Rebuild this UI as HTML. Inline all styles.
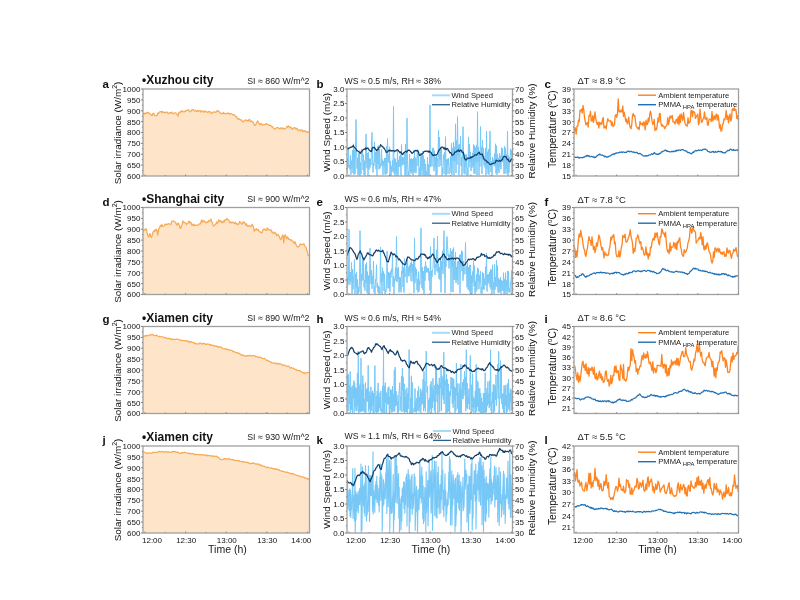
<!DOCTYPE html>
<html><head><meta charset="utf-8"><style>
html,body{margin:0;padding:0;background:#fff;width:800px;height:600px;overflow:hidden;position:relative}
text{font-family:"Liberation Sans", sans-serif}
</style></head><body>
<svg width="800" height="600" viewBox="0 0 800 600" style="position:absolute;left:0;top:0;filter:blur(0.35px)" font-family='"Liberation Sans", sans-serif'>
<rect width="800" height="600" fill="#fff"/>
<defs><clipPath id="cp00"><rect x="143.0" y="89.0" width="166.5" height="87.0"/></clipPath><clipPath id="cp01"><rect x="143.0" y="207.5" width="166.5" height="87.0"/></clipPath><clipPath id="cp02"><rect x="143.0" y="326.5" width="166.5" height="87.0"/></clipPath><clipPath id="cp03"><rect x="143.0" y="446.0" width="166.5" height="87.0"/></clipPath><clipPath id="cp10"><rect x="347.0" y="89.0" width="165.5" height="87.0"/></clipPath><clipPath id="cp11"><rect x="347.0" y="207.5" width="165.5" height="87.0"/></clipPath><clipPath id="cp12"><rect x="347.0" y="326.5" width="165.5" height="87.0"/></clipPath><clipPath id="cp13"><rect x="347.0" y="446.0" width="165.5" height="87.0"/></clipPath><clipPath id="cp20"><rect x="574.0" y="89.0" width="164.5" height="87.0"/></clipPath><clipPath id="cp21"><rect x="574.0" y="207.5" width="164.5" height="87.0"/></clipPath><clipPath id="cp22"><rect x="574.0" y="326.5" width="164.5" height="87.0"/></clipPath><clipPath id="cp23"><rect x="574.0" y="446.0" width="164.5" height="87.0"/></clipPath></defs>
<g clip-path="url(#cp00)"><path d="M143.0,113.9 L143.7,113.3 L144.4,114.1 L145.1,112.9 L145.8,113.5 L146.5,113.1 L147.2,112.2 L147.9,112.8 L148.6,112.6 L149.3,113.9 L150.0,113.8 L150.7,114.3 L151.4,115.3 L152.1,115.7 L152.8,113.8 L153.5,113.2 L154.2,114.4 L154.9,115.7 L155.6,115.5 L156.3,115.5 L157.0,115.6 L157.7,112.9 L158.4,113.7 L159.1,112.6 L159.8,111.9 L160.5,111.5 L161.2,111.7 L161.9,112.6 L162.6,111.4 L163.3,112.2 L164.0,112.7 L164.7,112.4 L165.4,112.8 L166.1,112.1 L166.8,112.1 L167.5,112.6 L168.2,113.8 L168.9,113.2 L169.6,112.7 L170.3,112.9 L171.0,112.5 L171.7,112.1 L172.4,113.4 L173.1,113.8 L173.8,113.1 L174.5,113.1 L175.2,112.7 L175.9,113.0 L176.6,114.0 L177.3,114.6 L178.0,116.1 L178.7,113.2 L179.4,112.1 L180.1,112.7 L180.8,111.4 L181.5,111.7 L182.2,110.7 L182.9,111.7 L183.6,111.9 L184.3,111.4 L185.0,111.8 L185.7,110.5 L186.4,110.8 L187.1,110.4 L187.8,110.1 L188.5,109.6 L189.2,110.9 L189.9,111.8 L190.6,111.5 L191.3,111.1 L192.0,109.4 L192.7,109.9 L193.4,109.5 L194.1,110.7 L194.8,111.1 L195.5,110.5 L196.2,111.0 L196.9,111.7 L197.6,110.5 L198.3,111.3 L199.0,110.9 L199.7,110.7 L200.4,110.6 L201.1,112.2 L201.8,111.2 L202.5,111.2 L203.2,111.4 L203.9,112.4 L204.6,110.9 L205.3,111.3 L206.0,111.5 L206.7,112.2 L207.4,112.1 L208.1,112.4 L208.8,111.4 L209.5,111.7 L210.2,111.8 L210.9,113.1 L211.6,113.6 L212.3,112.3 L213.0,112.2 L213.7,112.1 L214.4,111.9 L215.1,112.2 L215.8,112.3 L216.5,111.5 L217.2,110.6 L217.9,111.1 L218.6,111.0 L219.3,111.8 L220.0,113.1 L220.7,113.2 L221.4,113.3 L222.1,113.9 L222.8,113.8 L223.5,112.3 L224.2,113.6 L224.9,113.5 L225.6,113.6 L226.3,113.7 L227.0,113.2 L227.7,113.3 L228.4,113.0 L229.1,114.2 L229.8,113.5 L230.5,113.6 L231.2,114.0 L231.9,114.2 L232.6,114.8 L233.3,114.5 L234.0,114.6 L234.7,115.4 L235.4,115.8 L236.1,116.9 L236.8,116.8 L237.5,119.0 L238.2,119.3 L238.9,118.7 L239.6,119.1 L240.3,119.7 L241.0,120.1 L241.7,119.9 L242.4,121.5 L243.1,122.0 L243.8,121.1 L244.5,120.9 L245.2,120.0 L245.9,119.9 L246.6,120.4 L247.3,120.3 L248.0,121.3 L248.7,120.0 L249.4,119.3 L250.1,121.3 L250.8,121.4 L251.5,121.0 L252.2,122.2 L252.9,121.8 L253.6,123.2 L254.3,124.9 L255.0,125.4 L255.7,124.9 L256.4,122.9 L257.1,121.8 L257.8,120.9 L258.5,122.9 L259.2,123.5 L259.9,124.8 L260.6,123.9 L261.3,123.5 L262.0,124.6 L262.7,125.1 L263.4,124.9 L264.1,124.7 L264.8,124.7 L265.5,124.4 L266.2,123.3 L266.9,124.0 L267.6,124.6 L268.3,124.7 L269.0,125.3 L269.7,125.4 L270.4,125.1 L271.1,125.7 L271.8,126.9 L272.5,126.5 L273.2,127.9 L273.9,128.7 L274.6,129.2 L275.3,128.5 L276.0,128.1 L276.7,127.8 L277.4,127.6 L278.1,127.5 L278.8,128.2 L279.5,128.8 L280.2,128.7 L280.9,127.8 L281.6,128.1 L282.3,128.8 L283.0,127.8 L283.7,128.8 L284.4,129.2 L285.1,128.7 L285.8,128.3 L286.5,127.3 L287.2,126.2 L287.9,127.0 L288.6,125.9 L289.3,126.6 L290.0,127.8 L290.7,127.2 L291.4,127.6 L292.1,129.3 L292.8,129.3 L293.5,128.0 L294.2,127.6 L294.9,127.5 L295.6,128.9 L296.3,129.2 L297.0,128.2 L297.7,129.7 L298.4,130.6 L299.1,130.3 L299.8,129.9 L300.5,130.6 L301.2,130.1 L301.9,129.8 L302.6,131.6 L303.3,131.1 L304.0,130.7 L304.7,131.4 L305.4,130.8 L306.1,131.9 L306.8,132.4 L307.5,131.6 L308.2,131.8 L309.5,132.3 L309.5,176.0 L143.0,176.0 Z" fill="#fee4c8" stroke="none"/>
<polyline points="143.0,113.9 143.7,113.3 144.4,114.1 145.1,112.9 145.8,113.5 146.5,113.1 147.2,112.2 147.9,112.8 148.6,112.6 149.3,113.9 150.0,113.8 150.7,114.3 151.4,115.3 152.1,115.7 152.8,113.8 153.5,113.2 154.2,114.4 154.9,115.7 155.6,115.5 156.3,115.5 157.0,115.6 157.7,112.9 158.4,113.7 159.1,112.6 159.8,111.9 160.5,111.5 161.2,111.7 161.9,112.6 162.6,111.4 163.3,112.2 164.0,112.7 164.7,112.4 165.4,112.8 166.1,112.1 166.8,112.1 167.5,112.6 168.2,113.8 168.9,113.2 169.6,112.7 170.3,112.9 171.0,112.5 171.7,112.1 172.4,113.4 173.1,113.8 173.8,113.1 174.5,113.1 175.2,112.7 175.9,113.0 176.6,114.0 177.3,114.6 178.0,116.1 178.7,113.2 179.4,112.1 180.1,112.7 180.8,111.4 181.5,111.7 182.2,110.7 182.9,111.7 183.6,111.9 184.3,111.4 185.0,111.8 185.7,110.5 186.4,110.8 187.1,110.4 187.8,110.1 188.5,109.6 189.2,110.9 189.9,111.8 190.6,111.5 191.3,111.1 192.0,109.4 192.7,109.9 193.4,109.5 194.1,110.7 194.8,111.1 195.5,110.5 196.2,111.0 196.9,111.7 197.6,110.5 198.3,111.3 199.0,110.9 199.7,110.7 200.4,110.6 201.1,112.2 201.8,111.2 202.5,111.2 203.2,111.4 203.9,112.4 204.6,110.9 205.3,111.3 206.0,111.5 206.7,112.2 207.4,112.1 208.1,112.4 208.8,111.4 209.5,111.7 210.2,111.8 210.9,113.1 211.6,113.6 212.3,112.3 213.0,112.2 213.7,112.1 214.4,111.9 215.1,112.2 215.8,112.3 216.5,111.5 217.2,110.6 217.9,111.1 218.6,111.0 219.3,111.8 220.0,113.1 220.7,113.2 221.4,113.3 222.1,113.9 222.8,113.8 223.5,112.3 224.2,113.6 224.9,113.5 225.6,113.6 226.3,113.7 227.0,113.2 227.7,113.3 228.4,113.0 229.1,114.2 229.8,113.5 230.5,113.6 231.2,114.0 231.9,114.2 232.6,114.8 233.3,114.5 234.0,114.6 234.7,115.4 235.4,115.8 236.1,116.9 236.8,116.8 237.5,119.0 238.2,119.3 238.9,118.7 239.6,119.1 240.3,119.7 241.0,120.1 241.7,119.9 242.4,121.5 243.1,122.0 243.8,121.1 244.5,120.9 245.2,120.0 245.9,119.9 246.6,120.4 247.3,120.3 248.0,121.3 248.7,120.0 249.4,119.3 250.1,121.3 250.8,121.4 251.5,121.0 252.2,122.2 252.9,121.8 253.6,123.2 254.3,124.9 255.0,125.4 255.7,124.9 256.4,122.9 257.1,121.8 257.8,120.9 258.5,122.9 259.2,123.5 259.9,124.8 260.6,123.9 261.3,123.5 262.0,124.6 262.7,125.1 263.4,124.9 264.1,124.7 264.8,124.7 265.5,124.4 266.2,123.3 266.9,124.0 267.6,124.6 268.3,124.7 269.0,125.3 269.7,125.4 270.4,125.1 271.1,125.7 271.8,126.9 272.5,126.5 273.2,127.9 273.9,128.7 274.6,129.2 275.3,128.5 276.0,128.1 276.7,127.8 277.4,127.6 278.1,127.5 278.8,128.2 279.5,128.8 280.2,128.7 280.9,127.8 281.6,128.1 282.3,128.8 283.0,127.8 283.7,128.8 284.4,129.2 285.1,128.7 285.8,128.3 286.5,127.3 287.2,126.2 287.9,127.0 288.6,125.9 289.3,126.6 290.0,127.8 290.7,127.2 291.4,127.6 292.1,129.3 292.8,129.3 293.5,128.0 294.2,127.6 294.9,127.5 295.6,128.9 296.3,129.2 297.0,128.2 297.7,129.7 298.4,130.6 299.1,130.3 299.8,129.9 300.5,130.6 301.2,130.1 301.9,129.8 302.6,131.6 303.3,131.1 304.0,130.7 304.7,131.4 305.4,130.8 306.1,131.9 306.8,132.4 307.5,131.6 308.2,131.8 309.5,132.3" fill="none" stroke="#f7ab55" stroke-width="1.25" stroke-linejoin="round" />
</g>
<rect x="143.0" y="89.0" width="166.5" height="87.0" fill="none" stroke="#a0a0a0" stroke-width="1.3"/>
<line x1="141.0" y1="89.0" x2="143.0" y2="89.0" stroke="#858585" stroke-width="1"/>
<text x="140.4" y="91.8" font-size="8.0" text-anchor="end" font-weight="normal" fill="#111" >1000</text>
<line x1="141.0" y1="99.9" x2="143.0" y2="99.9" stroke="#858585" stroke-width="1"/>
<text x="140.4" y="102.7" font-size="8.0" text-anchor="end" font-weight="normal" fill="#111" >950</text>
<line x1="141.0" y1="110.8" x2="143.0" y2="110.8" stroke="#858585" stroke-width="1"/>
<text x="140.4" y="113.6" font-size="8.0" text-anchor="end" font-weight="normal" fill="#111" >900</text>
<line x1="141.0" y1="121.6" x2="143.0" y2="121.6" stroke="#858585" stroke-width="1"/>
<text x="140.4" y="124.5" font-size="8.0" text-anchor="end" font-weight="normal" fill="#111" >850</text>
<line x1="141.0" y1="132.5" x2="143.0" y2="132.5" stroke="#858585" stroke-width="1"/>
<text x="140.4" y="135.3" font-size="8.0" text-anchor="end" font-weight="normal" fill="#111" >800</text>
<line x1="141.0" y1="143.4" x2="143.0" y2="143.4" stroke="#858585" stroke-width="1"/>
<text x="140.4" y="146.2" font-size="8.0" text-anchor="end" font-weight="normal" fill="#111" >750</text>
<line x1="141.0" y1="154.2" x2="143.0" y2="154.2" stroke="#858585" stroke-width="1"/>
<text x="140.4" y="157.1" font-size="8.0" text-anchor="end" font-weight="normal" fill="#111" >700</text>
<line x1="141.0" y1="165.1" x2="143.0" y2="165.1" stroke="#858585" stroke-width="1"/>
<text x="140.4" y="168.0" font-size="8.0" text-anchor="end" font-weight="normal" fill="#111" >650</text>
<line x1="141.0" y1="176.0" x2="143.0" y2="176.0" stroke="#858585" stroke-width="1"/>
<text x="140.4" y="178.8" font-size="8.0" text-anchor="end" font-weight="normal" fill="#111" >600</text>
<line x1="141.8" y1="94.4" x2="143.0" y2="94.4" stroke="#858585" stroke-width="0.8"/>
<line x1="141.8" y1="105.3" x2="143.0" y2="105.3" stroke="#858585" stroke-width="0.8"/>
<line x1="141.8" y1="116.2" x2="143.0" y2="116.2" stroke="#858585" stroke-width="0.8"/>
<line x1="141.8" y1="127.1" x2="143.0" y2="127.1" stroke="#858585" stroke-width="0.8"/>
<line x1="141.8" y1="137.9" x2="143.0" y2="137.9" stroke="#858585" stroke-width="0.8"/>
<line x1="141.8" y1="148.8" x2="143.0" y2="148.8" stroke="#858585" stroke-width="0.8"/>
<line x1="141.8" y1="159.7" x2="143.0" y2="159.7" stroke="#858585" stroke-width="0.8"/>
<line x1="141.8" y1="170.6" x2="143.0" y2="170.6" stroke="#858585" stroke-width="0.8"/>
<line x1="145.0" y1="174.5" x2="145.0" y2="176.0" stroke="#858585" stroke-width="0.9"/>
<line x1="165.3" y1="175.0" x2="165.3" y2="176.0" stroke="#858585" stroke-width="0.8"/>
<line x1="185.6" y1="174.5" x2="185.6" y2="176.0" stroke="#858585" stroke-width="0.9"/>
<line x1="205.9" y1="175.0" x2="205.9" y2="176.0" stroke="#858585" stroke-width="0.8"/>
<line x1="226.2" y1="174.5" x2="226.2" y2="176.0" stroke="#858585" stroke-width="0.9"/>
<line x1="246.5" y1="175.0" x2="246.5" y2="176.0" stroke="#858585" stroke-width="0.8"/>
<line x1="266.8" y1="174.5" x2="266.8" y2="176.0" stroke="#858585" stroke-width="0.9"/>
<line x1="287.1" y1="175.0" x2="287.1" y2="176.0" stroke="#858585" stroke-width="0.8"/>
<line x1="307.4" y1="174.5" x2="307.4" y2="176.0" stroke="#858585" stroke-width="0.9"/>
<text x="102.5" y="87.6" font-size="11.5" text-anchor="start" font-weight="bold" fill="#111" >a</text>
<text x="142.0" y="83.5" font-size="12" text-anchor="start" font-weight="bold" fill="#111" >•Xuzhou city</text>
<text x="309.5" y="83.5" font-size="8.8" text-anchor="end" font-weight="normal" fill="#222" >SI ≈ 860 W/m^2</text>
<text transform="translate(120.5,133.0) rotate(-90)" font-size="9.9" text-anchor="middle" fill="#111">Solar irradiance (W/m<tspan font-size="7.0" dy="-4.0">2</tspan><tspan dy="4.0">)</tspan></text>
<g clip-path="url(#cp10)">
<polyline points="347.0,173.4 347.5,157.8 348.0,167.0 348.5,149.6 349.0,167.9 349.5,165.0 350.0,169.6 350.5,155.3 351.0,174.7 351.5,160.8 352.0,168.6 352.5,150.2 353.0,173.0 353.5,143.8 354.0,174.7 354.5,149.7 355.0,173.9 355.5,149.2 356.0,119.5 356.5,147.5 357.0,168.7 357.5,157.9 358.0,175.0 358.5,153.3 359.0,175.2 359.5,150.7 360.0,176.0 360.5,162.7 361.0,174.0 361.5,149.0 362.0,155.6 362.5,150.0 363.0,169.9 363.5,154.7 364.0,175.1 364.5,160.7 365.0,175.3 365.5,160.2 366.0,133.9 366.5,158.2 367.0,168.2 367.5,153.1 368.0,175.6 368.5,152.2 369.0,169.8 369.5,158.5 370.0,167.5 370.5,159.4 371.0,165.1 371.5,142.0 372.0,132.5 372.5,156.0 373.0,172.6 373.5,162.8 374.0,166.0 374.5,141.9 375.0,162.4 375.5,152.1 376.0,169.1 376.5,151.3 377.0,175.9 377.5,146.5 378.0,164.2 378.5,145.6 379.0,169.3 379.5,149.1 380.0,168.5 380.5,163.3 381.0,164.3 381.5,149.4 382.0,166.2 382.5,159.6 383.0,175.0 383.5,161.2 384.0,164.7 384.5,157.9 385.0,174.5 385.5,158.0 386.0,174.5 386.5,146.3 387.0,173.4 387.5,138.5 388.0,161.5 388.5,154.5 389.0,163.0 389.5,146.8 390.0,176.0 390.5,161.0 391.0,176.0 391.5,166.2 392.0,171.8 392.5,160.4 393.0,171.2 393.5,106.4 394.0,173.3 394.5,158.6 395.0,176.0 395.5,158.8 396.0,173.4 396.5,162.4 397.0,175.7 397.5,149.0 398.0,176.0 398.5,160.4 399.0,166.9 399.5,156.0 400.0,167.0 400.5,154.7 401.0,175.9 401.5,144.4 402.0,165.5 402.5,157.3 403.0,165.0 403.5,157.5 404.0,164.0 404.5,153.5 405.0,175.3 405.5,144.2 406.0,176.0 406.5,165.3 407.0,118.0 407.5,160.4 408.0,176.0 408.5,171.5 409.0,175.0 409.5,154.0 410.0,171.6 410.5,159.3 411.0,173.8 411.5,158.1 412.0,171.7 412.5,159.0 413.0,175.8 413.5,157.8 414.0,173.1 414.5,150.2 415.0,171.5 415.5,157.7 416.0,173.2 416.5,161.9 417.0,156.3 417.5,149.0 418.0,165.9 418.5,150.2 419.0,176.0 419.5,167.7 420.0,176.0 420.5,156.8 421.0,176.0 421.5,154.0 422.0,170.3 422.5,151.4 423.0,176.0 423.5,155.5 424.0,175.4 424.5,159.3 425.0,176.0 425.5,163.9 426.0,176.0 426.5,171.6 427.0,176.0 427.5,157.3 428.0,175.1 428.5,164.2 429.0,176.0 429.5,163.5 430.0,104.9 430.5,167.1 431.0,160.5 431.5,154.2 432.0,166.5 432.5,147.9 433.0,155.6 433.5,147.9 434.0,171.1 434.5,150.8 435.0,166.9 435.5,157.2 436.0,175.5 436.5,154.7 437.0,174.9 437.5,158.4 438.0,157.2 438.5,130.2 439.0,166.9 439.5,137.1 440.0,159.6 440.5,150.2 441.0,165.8 441.5,147.8 442.0,176.0 442.5,167.6 443.0,173.7 443.5,154.6 444.0,160.3 444.5,152.2 445.0,174.4 445.5,136.6 446.0,175.8 446.5,159.7 447.0,174.2 447.5,158.9 448.0,164.7 448.5,158.4 449.0,174.2 449.5,169.1 450.0,166.6 450.5,156.4 451.0,173.2 451.5,143.0 452.0,175.0 452.5,148.3 453.0,160.4 453.5,142.0 454.0,175.5 454.5,146.9 455.0,161.3 455.5,123.8 456.0,173.1 456.5,140.5 457.0,164.5 457.5,116.6 458.0,155.3 458.5,144.9 459.0,175.6 459.5,144.0 460.0,150.9 460.5,136.2 461.0,166.1 461.5,157.1 462.0,175.7 462.5,151.4 463.0,126.7 463.5,151.8 464.0,173.4 464.5,154.1 465.0,174.4 465.5,154.8 466.0,167.3 466.5,154.6 467.0,176.0 467.5,167.9 468.0,175.7 468.5,136.9 469.0,167.4 469.5,144.1 470.0,161.9 470.5,151.9 471.0,171.0 471.5,156.9 472.0,167.8 472.5,152.9 473.0,166.1 473.5,144.6 474.0,173.4 474.5,145.5 475.0,174.0 475.5,147.4 476.0,162.3 476.5,144.9 477.0,175.4 477.5,111.7 478.0,161.9 478.5,146.9 479.0,175.3 479.5,151.2 480.0,166.6 480.5,126.6 481.0,158.6 481.5,147.0 482.0,173.8 482.5,140.2 483.0,160.0 483.5,148.0 484.0,165.3 484.5,156.7 485.0,167.5 485.5,148.3 486.0,175.4 486.5,131.1 487.0,168.6 487.5,151.8 488.0,173.6 488.5,149.1 489.0,174.7 489.5,149.2 490.0,131.1 490.5,161.5 491.0,172.1 491.5,161.1 492.0,175.8 492.5,157.1 493.0,163.0 493.5,159.8 494.0,165.7 494.5,153.6 495.0,166.6 495.5,143.8 496.0,173.6 496.5,145.7 497.0,174.8 497.5,154.5 498.0,170.6 498.5,158.2 499.0,173.0 499.5,153.0 500.0,167.4 500.5,155.8 501.0,169.2 501.5,147.7 502.0,161.6 502.5,148.3 503.0,162.2 503.5,159.1 504.0,173.8 504.5,146.2 505.0,173.7 505.5,147.9 506.0,168.9 506.5,154.3 507.0,173.6 507.5,131.1 508.0,176.0 508.5,155.8 509.0,172.6 509.5,157.4 510.0,160.0 510.5,148.8 511.0,155.1 511.5,150.2 512.0,173.1 512.5,163.2" fill="none" stroke="#78c8f7" stroke-width="1.0" stroke-linejoin="round" />
<polyline points="347.0,149.6 347.7,148.0 348.4,148.8 349.1,148.0 349.8,147.8 350.5,147.2 351.2,147.3 351.9,146.8 352.6,146.6 353.3,145.4 354.0,146.9 354.7,147.5 355.4,148.7 356.1,149.0 356.8,150.6 357.5,150.9 358.2,151.2 358.9,151.9 359.6,152.6 360.3,153.4 361.0,151.8 361.7,151.6 362.4,150.2 363.1,149.9 363.8,149.2 364.5,148.9 365.2,149.5 365.9,147.7 366.6,148.9 367.3,148.2 368.0,148.1 368.7,149.3 369.4,150.6 370.1,150.7 370.8,151.5 371.5,151.7 372.2,148.3 372.9,147.4 373.6,147.8 374.3,147.1 375.0,148.5 375.7,149.4 376.4,150.5 377.1,149.7 377.8,150.0 378.5,148.3 379.2,147.3 379.9,147.2 380.6,144.7 381.3,145.6 382.0,146.3 382.7,146.4 383.4,148.1 384.1,148.0 384.8,149.3 385.5,150.5 386.2,152.2 386.9,152.3 387.6,151.9 388.3,150.8 389.0,150.1 389.7,150.9 390.4,150.1 391.1,151.1 391.8,150.6 392.5,150.9 393.2,150.5 393.9,150.7 394.6,151.6 395.3,150.9 396.0,151.0 396.7,149.9 397.4,149.8 398.1,150.2 398.8,151.3 399.5,152.0 400.2,152.8 400.9,151.8 401.6,153.4 402.3,154.4 403.0,154.3 403.7,152.7 404.4,152.5 405.1,151.5 405.8,151.3 406.5,152.2 407.2,151.2 407.9,150.5 408.6,150.1 409.3,150.4 410.0,150.8 410.7,151.6 411.4,152.5 412.1,153.4 412.8,152.7 413.5,152.3 414.2,150.8 414.9,151.1 415.6,150.3 416.3,150.9 417.0,150.5 417.7,151.3 418.4,151.9 419.1,154.2 419.8,155.7 420.5,155.1 421.2,153.9 421.9,154.2 422.6,153.8 423.3,152.8 424.0,151.6 424.7,151.3 425.4,151.4 426.1,151.0 426.8,151.1 427.5,151.4 428.2,152.1 428.9,150.9 429.6,152.2 430.3,151.8 431.0,152.2 431.7,154.1 432.4,154.4 433.1,155.6 433.8,155.2 434.5,154.7 435.2,155.3 435.9,154.9 436.6,154.8 437.3,154.1 438.0,152.2 438.7,150.9 439.4,149.3 440.1,149.3 440.8,147.7 441.5,147.2 442.2,147.0 442.9,147.1 443.6,148.6 444.3,147.8 445.0,149.5 445.7,148.1 446.4,149.5 447.1,148.5 447.8,148.8 448.5,151.0 449.2,151.1 449.9,152.9 450.6,152.7 451.3,153.1 452.0,155.4 452.7,154.9 453.4,154.7 454.1,153.9 454.8,151.9 455.5,152.2 456.2,152.0 456.9,150.9 457.6,151.2 458.3,149.8 459.0,151.3 459.7,151.3 460.4,150.1 461.1,150.1 461.8,151.6 462.5,152.5 463.2,152.1 463.9,155.1 464.6,158.8 465.3,159.3 466.0,160.2 466.7,159.4 467.4,158.1 468.1,158.2 468.8,158.4 469.5,158.0 470.2,158.1 470.9,156.8 471.6,157.7 472.3,156.6 473.0,156.6 473.7,156.2 474.4,155.3 475.1,154.7 475.8,155.0 476.5,155.0 477.2,154.3 477.9,153.4 478.6,152.8 479.3,152.3 480.0,154.3 480.7,154.3 481.4,154.6 482.1,154.0 482.8,155.8 483.5,158.0 484.2,159.3 484.9,160.2 485.6,160.1 486.3,160.7 487.0,162.2 487.7,161.8 488.4,162.8 489.1,163.2 489.8,164.3 490.5,164.7 491.2,164.1 491.9,163.8 492.6,163.7 493.3,163.4 494.0,163.1 494.7,163.0 495.4,162.5 496.1,160.1 496.8,160.7 497.5,160.9 498.2,161.3 498.9,161.0 499.6,160.5 500.3,161.3 501.0,160.8 501.7,159.8 502.4,159.6 503.1,157.8 503.8,156.3 504.5,156.4 505.2,156.8 505.9,156.6 506.6,158.3 507.3,159.7 508.0,159.2 508.7,160.6 509.4,161.7 510.1,161.8 510.8,160.1 511.5,159.0 512.2,158.9" fill="none" stroke="#153f68" stroke-width="1.25" stroke-linejoin="round" />
</g>
<rect x="347.0" y="89.0" width="165.5" height="87.0" fill="none" stroke="#a0a0a0" stroke-width="1.3"/>
<line x1="345.0" y1="89.0" x2="347.0" y2="89.0" stroke="#858585" stroke-width="1"/>
<text x="344.4" y="91.8" font-size="8.0" text-anchor="end" font-weight="normal" fill="#111" >3.0</text>
<line x1="345.0" y1="103.5" x2="347.0" y2="103.5" stroke="#858585" stroke-width="1"/>
<text x="344.4" y="106.3" font-size="8.0" text-anchor="end" font-weight="normal" fill="#111" >2.5</text>
<line x1="345.0" y1="118.0" x2="347.0" y2="118.0" stroke="#858585" stroke-width="1"/>
<text x="344.4" y="120.8" font-size="8.0" text-anchor="end" font-weight="normal" fill="#111" >2.0</text>
<line x1="345.0" y1="132.5" x2="347.0" y2="132.5" stroke="#858585" stroke-width="1"/>
<text x="344.4" y="135.3" font-size="8.0" text-anchor="end" font-weight="normal" fill="#111" >1.5</text>
<line x1="345.0" y1="147.0" x2="347.0" y2="147.0" stroke="#858585" stroke-width="1"/>
<text x="344.4" y="149.8" font-size="8.0" text-anchor="end" font-weight="normal" fill="#111" >1.0</text>
<line x1="345.0" y1="161.5" x2="347.0" y2="161.5" stroke="#858585" stroke-width="1"/>
<text x="344.4" y="164.3" font-size="8.0" text-anchor="end" font-weight="normal" fill="#111" >0.5</text>
<line x1="345.0" y1="176.0" x2="347.0" y2="176.0" stroke="#858585" stroke-width="1"/>
<text x="344.4" y="178.8" font-size="8.0" text-anchor="end" font-weight="normal" fill="#111" >0.0</text>
<line x1="345.8" y1="96.2" x2="347.0" y2="96.2" stroke="#858585" stroke-width="0.8"/>
<line x1="345.8" y1="110.8" x2="347.0" y2="110.8" stroke="#858585" stroke-width="0.8"/>
<line x1="345.8" y1="125.2" x2="347.0" y2="125.2" stroke="#858585" stroke-width="0.8"/>
<line x1="345.8" y1="139.8" x2="347.0" y2="139.8" stroke="#858585" stroke-width="0.8"/>
<line x1="345.8" y1="154.2" x2="347.0" y2="154.2" stroke="#858585" stroke-width="0.8"/>
<line x1="345.8" y1="168.8" x2="347.0" y2="168.8" stroke="#858585" stroke-width="0.8"/>
<line x1="512.5" y1="89.0" x2="514.5" y2="89.0" stroke="#858585" stroke-width="1"/>
<text x="515.0" y="91.8" font-size="8.0" text-anchor="start" font-weight="normal" fill="#111" >70</text>
<line x1="512.5" y1="99.9" x2="514.5" y2="99.9" stroke="#858585" stroke-width="1"/>
<text x="515.0" y="102.7" font-size="8.0" text-anchor="start" font-weight="normal" fill="#111" >65</text>
<line x1="512.5" y1="110.8" x2="514.5" y2="110.8" stroke="#858585" stroke-width="1"/>
<text x="515.0" y="113.6" font-size="8.0" text-anchor="start" font-weight="normal" fill="#111" >60</text>
<line x1="512.5" y1="121.6" x2="514.5" y2="121.6" stroke="#858585" stroke-width="1"/>
<text x="515.0" y="124.5" font-size="8.0" text-anchor="start" font-weight="normal" fill="#111" >55</text>
<line x1="512.5" y1="132.5" x2="514.5" y2="132.5" stroke="#858585" stroke-width="1"/>
<text x="515.0" y="135.3" font-size="8.0" text-anchor="start" font-weight="normal" fill="#111" >50</text>
<line x1="512.5" y1="143.4" x2="514.5" y2="143.4" stroke="#858585" stroke-width="1"/>
<text x="515.0" y="146.2" font-size="8.0" text-anchor="start" font-weight="normal" fill="#111" >45</text>
<line x1="512.5" y1="154.2" x2="514.5" y2="154.2" stroke="#858585" stroke-width="1"/>
<text x="515.0" y="157.1" font-size="8.0" text-anchor="start" font-weight="normal" fill="#111" >40</text>
<line x1="512.5" y1="165.1" x2="514.5" y2="165.1" stroke="#858585" stroke-width="1"/>
<text x="515.0" y="168.0" font-size="8.0" text-anchor="start" font-weight="normal" fill="#111" >35</text>
<line x1="512.5" y1="176.0" x2="514.5" y2="176.0" stroke="#858585" stroke-width="1"/>
<text x="515.0" y="178.8" font-size="8.0" text-anchor="start" font-weight="normal" fill="#111" >30</text>
<line x1="512.5" y1="94.4" x2="513.7" y2="94.4" stroke="#858585" stroke-width="0.8"/>
<line x1="512.5" y1="105.3" x2="513.7" y2="105.3" stroke="#858585" stroke-width="0.8"/>
<line x1="512.5" y1="116.2" x2="513.7" y2="116.2" stroke="#858585" stroke-width="0.8"/>
<line x1="512.5" y1="127.1" x2="513.7" y2="127.1" stroke="#858585" stroke-width="0.8"/>
<line x1="512.5" y1="137.9" x2="513.7" y2="137.9" stroke="#858585" stroke-width="0.8"/>
<line x1="512.5" y1="148.8" x2="513.7" y2="148.8" stroke="#858585" stroke-width="0.8"/>
<line x1="512.5" y1="159.7" x2="513.7" y2="159.7" stroke="#858585" stroke-width="0.8"/>
<line x1="512.5" y1="170.6" x2="513.7" y2="170.6" stroke="#858585" stroke-width="0.8"/>
<line x1="349.0" y1="174.5" x2="349.0" y2="176.0" stroke="#858585" stroke-width="0.9"/>
<line x1="369.3" y1="175.0" x2="369.3" y2="176.0" stroke="#858585" stroke-width="0.8"/>
<line x1="389.6" y1="174.5" x2="389.6" y2="176.0" stroke="#858585" stroke-width="0.9"/>
<line x1="409.9" y1="175.0" x2="409.9" y2="176.0" stroke="#858585" stroke-width="0.8"/>
<line x1="430.2" y1="174.5" x2="430.2" y2="176.0" stroke="#858585" stroke-width="0.9"/>
<line x1="450.5" y1="175.0" x2="450.5" y2="176.0" stroke="#858585" stroke-width="0.8"/>
<line x1="470.8" y1="174.5" x2="470.8" y2="176.0" stroke="#858585" stroke-width="0.9"/>
<line x1="491.1" y1="175.0" x2="491.1" y2="176.0" stroke="#858585" stroke-width="0.8"/>
<line x1="511.4" y1="174.5" x2="511.4" y2="176.0" stroke="#858585" stroke-width="0.9"/>
<text x="316.5" y="87.6" font-size="11.5" text-anchor="start" font-weight="bold" fill="#111" >b</text>
<text x="344.5" y="83.5" font-size="8.7" text-anchor="start" font-weight="normal" fill="#222" >WS ≈ 0.5 m/s, RH ≈ 38%</text>
<text transform="translate(329.5,132.3) rotate(-90)" font-size="9.85" text-anchor="middle" fill="#111">Wind Speed (m/s)</text>
<text transform="translate(534.7,131.0) rotate(-90)" font-size="9.9" text-anchor="middle" fill="#111">Relative Humidity (%)</text>
<line x1="432" y1="95.3" x2="450" y2="95.3" stroke="#a6dcf8" stroke-width="2"/>
<text x="451.5" y="97.9" font-size="7.6" text-anchor="start" font-weight="normal" fill="#222" >Wind Speed</text>
<line x1="432" y1="104.7" x2="450" y2="104.7" stroke="#2e5f8a" stroke-width="1.3"/>
<text x="451.5" y="107.3" font-size="7.6" text-anchor="start" font-weight="normal" fill="#222" >Relative Humidity</text>
<g clip-path="url(#cp20)">
<polyline points="574.0,134.4 574.8,127.3 575.5,128.9 576.2,134.1 577.0,126.1 577.8,126.2 578.5,120.1 579.2,121.6 580.0,110.2 580.8,110.7 581.5,109.1 582.2,113.2 583.0,105.5 583.8,110.0 584.5,117.6 585.2,121.2 586.0,125.0 586.8,123.3 587.5,122.4 588.2,127.1 589.0,115.4 589.8,116.1 590.5,111.5 591.2,120.6 592.0,121.1 592.8,115.6 593.5,122.3 594.2,118.1 595.0,111.8 595.8,119.2 596.5,122.0 597.2,124.5 598.0,122.1 598.8,128.0 599.5,122.5 600.2,124.6 601.0,122.7 601.8,124.3 602.5,119.4 603.2,117.5 604.0,128.0 604.8,127.2 605.5,126.1 606.2,128.9 607.0,122.7 607.8,118.6 608.5,120.8 609.2,120.8 610.0,121.4 610.8,120.6 611.5,125.4 612.2,122.2 613.0,126.7 613.8,125.4 614.5,124.6 615.2,115.6 616.0,114.7 616.8,117.4 617.5,113.0 618.2,98.8 619.0,111.9 619.8,111.0 620.5,111.9 621.2,110.0 622.0,112.1 622.8,106.0 623.5,116.4 624.2,112.1 625.0,116.5 625.8,121.3 626.5,118.9 627.2,123.8 628.0,122.4 628.8,117.2 629.5,125.0 630.2,127.3 631.0,128.8 631.8,124.1 632.5,115.4 633.2,113.5 634.0,116.2 634.8,115.4 635.5,121.5 636.2,126.2 637.0,127.3 637.8,128.8 638.5,127.5 639.2,129.6 640.0,121.5 640.8,124.3 641.5,124.3 642.2,123.0 643.0,125.8 643.8,121.7 644.5,123.1 645.2,129.9 646.0,120.2 646.8,124.4 647.5,124.5 648.2,118.1 649.0,121.8 649.8,113.4 650.5,111.1 651.2,114.9 652.0,120.9 652.8,124.5 653.5,123.1 654.2,119.4 655.0,130.6 655.8,128.2 656.5,129.7 657.2,125.7 658.0,118.0 658.8,121.8 659.5,113.6 660.2,113.5 661.0,124.1 661.8,126.1 662.5,124.7 663.2,126.3 664.0,126.7 664.8,128.7 665.5,126.4 666.2,126.2 667.0,124.7 667.8,117.7 668.5,124.5 669.2,121.4 670.0,115.8 670.8,118.1 671.5,117.1 672.2,115.4 673.0,121.9 673.8,121.4 674.5,122.8 675.2,123.8 676.0,120.0 676.8,119.1 677.5,123.5 678.2,116.6 679.0,124.7 679.8,114.8 680.5,122.4 681.2,114.0 682.0,117.2 682.8,120.3 683.5,112.4 684.2,117.8 685.0,123.2 685.8,125.0 686.5,125.7 687.2,126.2 688.0,117.6 688.8,123.5 689.5,121.9 690.2,121.9 691.0,110.6 691.8,110.3 692.5,116.5 693.2,111.2 694.0,111.8 694.8,112.9 695.5,118.4 696.2,116.8 697.0,115.7 697.8,114.1 698.5,124.7 699.2,123.0 700.0,109.1 700.8,116.9 701.5,122.4 702.2,121.7 703.0,119.0 703.8,117.7 704.5,111.8 705.2,119.2 706.0,119.0 706.8,117.4 707.5,125.0 708.2,125.1 709.0,119.1 709.8,119.2 710.5,119.3 711.2,121.5 712.0,111.5 712.8,120.9 713.5,118.9 714.2,115.7 715.0,119.6 715.8,115.5 716.5,114.0 717.2,120.1 718.0,114.9 718.8,119.6 719.5,128.2 720.2,124.7 721.0,131.2 721.8,130.4 722.5,124.9 723.2,123.5 724.0,118.9 724.8,119.7 725.5,116.7 726.2,110.5 727.0,119.4 727.8,115.6 728.5,122.9 729.2,117.9 730.0,113.9 730.8,121.1 731.5,118.8 732.2,109.4 733.0,108.8 733.8,110.7 734.5,107.9 735.2,110.3 736.0,109.9 736.8,118.4 737.5,115.6 738.2,119.9" fill="none" stroke="#ff8420" stroke-width="1.3" stroke-linejoin="round" />
<polyline points="574.0,157.4 574.7,156.9 575.4,157.4 576.1,157.3 576.8,157.4 577.5,157.0 578.2,157.1 578.9,158.1 579.6,157.7 580.3,157.5 581.0,157.5 581.7,157.7 582.4,157.7 583.1,157.1 583.8,157.5 584.5,156.9 585.2,156.3 585.9,156.6 586.6,155.6 587.3,155.4 588.0,156.3 588.7,155.6 589.4,156.0 590.1,156.7 590.8,156.9 591.5,156.3 592.2,156.5 592.9,157.1 593.6,156.9 594.3,157.7 595.0,157.0 595.7,157.4 596.4,156.6 597.1,155.7 597.8,155.4 598.5,154.6 599.2,154.8 599.9,154.0 600.6,155.0 601.3,155.1 602.0,155.0 602.7,155.1 603.4,155.9 604.1,155.8 604.8,156.8 605.5,156.3 606.2,157.0 606.9,157.3 607.6,156.7 608.3,156.9 609.0,156.2 609.7,156.2 610.4,155.8 611.1,155.2 611.8,154.9 612.5,154.2 613.2,153.9 613.9,154.5 614.6,153.6 615.3,153.7 616.0,152.9 616.7,153.2 617.4,152.9 618.1,153.0 618.8,152.6 619.5,152.2 620.2,152.3 620.9,152.1 621.6,151.9 622.3,152.5 623.0,152.0 623.7,151.9 624.4,152.5 625.1,152.3 625.8,152.4 626.5,152.3 627.2,151.4 627.9,151.3 628.6,151.0 629.3,151.7 630.0,151.8 630.7,151.4 631.4,151.4 632.1,151.9 632.8,152.2 633.5,151.8 634.2,152.6 634.9,152.3 635.6,152.7 636.3,152.4 637.0,152.4 637.7,153.5 638.4,153.6 639.1,153.8 639.8,153.4 640.5,153.7 641.2,154.3 641.9,154.8 642.6,155.4 643.3,156.0 644.0,155.8 644.7,155.9 645.4,156.2 646.1,155.5 646.8,156.1 647.5,155.7 648.2,155.7 648.9,155.0 649.6,154.9 650.3,155.0 651.0,154.4 651.7,153.6 652.4,154.3 653.1,154.1 653.8,153.2 654.5,152.5 655.2,153.8 655.9,154.2 656.6,153.9 657.3,154.5 658.0,154.0 658.7,154.4 659.4,153.3 660.1,153.6 660.8,153.1 661.5,151.8 662.2,151.9 662.9,151.2 663.6,151.1 664.3,150.8 665.0,150.2 665.7,150.0 666.4,151.1 667.1,150.8 667.8,151.5 668.5,151.4 669.2,151.6 669.9,151.9 670.6,151.8 671.3,151.6 672.0,151.2 672.7,151.8 673.4,151.4 674.1,151.3 674.8,151.7 675.5,150.6 676.2,151.1 676.9,150.1 677.6,150.6 678.3,150.7 679.0,149.9 679.7,150.0 680.4,150.4 681.1,149.9 681.8,149.7 682.5,149.6 683.2,149.6 683.9,150.2 684.6,150.7 685.3,150.7 686.0,151.1 686.7,151.2 687.4,152.3 688.1,152.7 688.8,152.4 689.5,152.6 690.2,153.3 690.9,153.6 691.6,153.8 692.3,152.8 693.0,152.1 693.7,152.4 694.4,151.1 695.1,151.0 695.8,150.4 696.5,150.9 697.2,150.6 697.9,150.7 698.6,149.9 699.3,150.3 700.0,150.3 700.7,150.0 701.4,150.3 702.1,150.4 702.8,149.4 703.5,149.3 704.2,149.4 704.9,149.1 705.6,149.1 706.3,149.8 707.0,150.2 707.7,151.3 708.4,151.6 709.1,151.6 709.8,152.2 710.5,152.4 711.2,152.2 711.9,151.9 712.6,151.6 713.3,151.4 714.0,152.5 714.7,152.3 715.4,151.4 716.1,151.9 716.8,152.3 717.5,151.7 718.2,151.1 718.9,151.6 719.6,151.7 720.3,151.4 721.0,151.9 721.7,151.4 722.4,152.6 723.1,152.5 723.8,152.6 724.5,153.1 725.2,152.9 725.9,152.1 726.6,151.5 727.3,150.9 728.0,150.2 728.7,150.7 729.4,150.5 730.1,149.4 730.8,149.1 731.5,149.7 732.2,150.2 732.9,150.4 733.6,149.5 734.3,150.2 735.0,150.4 735.7,150.4 736.4,150.0 737.1,149.7 737.8,150.6 738.5,150.1" fill="none" stroke="#2272b6" stroke-width="1.25" stroke-linejoin="round" />
</g>
<rect x="574.0" y="89.0" width="164.5" height="87.0" fill="none" stroke="#a0a0a0" stroke-width="1.3"/>
<line x1="572.0" y1="89.0" x2="574.0" y2="89.0" stroke="#858585" stroke-width="1"/>
<text x="570.9" y="91.8" font-size="8.0" text-anchor="end" font-weight="normal" fill="#111" >39</text>
<line x1="572.0" y1="99.9" x2="574.0" y2="99.9" stroke="#858585" stroke-width="1"/>
<text x="570.9" y="102.7" font-size="8.0" text-anchor="end" font-weight="normal" fill="#111" >36</text>
<line x1="572.0" y1="110.8" x2="574.0" y2="110.8" stroke="#858585" stroke-width="1"/>
<text x="570.9" y="113.6" font-size="8.0" text-anchor="end" font-weight="normal" fill="#111" >33</text>
<line x1="572.0" y1="121.6" x2="574.0" y2="121.6" stroke="#858585" stroke-width="1"/>
<text x="570.9" y="124.5" font-size="8.0" text-anchor="end" font-weight="normal" fill="#111" >30</text>
<line x1="572.0" y1="132.5" x2="574.0" y2="132.5" stroke="#858585" stroke-width="1"/>
<text x="570.9" y="135.3" font-size="8.0" text-anchor="end" font-weight="normal" fill="#111" >27</text>
<line x1="572.0" y1="143.4" x2="574.0" y2="143.4" stroke="#858585" stroke-width="1"/>
<text x="570.9" y="146.2" font-size="8.0" text-anchor="end" font-weight="normal" fill="#111" >24</text>
<line x1="572.0" y1="154.2" x2="574.0" y2="154.2" stroke="#858585" stroke-width="1"/>
<text x="570.9" y="157.1" font-size="8.0" text-anchor="end" font-weight="normal" fill="#111" >21</text>
<line x1="572.0" y1="165.1" x2="574.0" y2="165.1" stroke="#858585" stroke-width="1"/>
<text x="570.9" y="168.0" font-size="8.0" text-anchor="end" font-weight="normal" fill="#111" >18</text>
<line x1="572.0" y1="176.0" x2="574.0" y2="176.0" stroke="#858585" stroke-width="1"/>
<text x="570.9" y="178.8" font-size="8.0" text-anchor="end" font-weight="normal" fill="#111" >15</text>
<line x1="572.8" y1="94.4" x2="574.0" y2="94.4" stroke="#858585" stroke-width="0.8"/>
<line x1="572.8" y1="105.3" x2="574.0" y2="105.3" stroke="#858585" stroke-width="0.8"/>
<line x1="572.8" y1="116.2" x2="574.0" y2="116.2" stroke="#858585" stroke-width="0.8"/>
<line x1="572.8" y1="127.1" x2="574.0" y2="127.1" stroke="#858585" stroke-width="0.8"/>
<line x1="572.8" y1="137.9" x2="574.0" y2="137.9" stroke="#858585" stroke-width="0.8"/>
<line x1="572.8" y1="148.8" x2="574.0" y2="148.8" stroke="#858585" stroke-width="0.8"/>
<line x1="572.8" y1="159.7" x2="574.0" y2="159.7" stroke="#858585" stroke-width="0.8"/>
<line x1="572.8" y1="170.6" x2="574.0" y2="170.6" stroke="#858585" stroke-width="0.8"/>
<line x1="576.0" y1="174.5" x2="576.0" y2="176.0" stroke="#858585" stroke-width="0.9"/>
<line x1="596.3" y1="175.0" x2="596.3" y2="176.0" stroke="#858585" stroke-width="0.8"/>
<line x1="616.6" y1="174.5" x2="616.6" y2="176.0" stroke="#858585" stroke-width="0.9"/>
<line x1="636.9" y1="175.0" x2="636.9" y2="176.0" stroke="#858585" stroke-width="0.8"/>
<line x1="657.2" y1="174.5" x2="657.2" y2="176.0" stroke="#858585" stroke-width="0.9"/>
<line x1="677.5" y1="175.0" x2="677.5" y2="176.0" stroke="#858585" stroke-width="0.8"/>
<line x1="697.8" y1="174.5" x2="697.8" y2="176.0" stroke="#858585" stroke-width="0.9"/>
<line x1="718.1" y1="175.0" x2="718.1" y2="176.0" stroke="#858585" stroke-width="0.8"/>
<line x1="738.4" y1="174.5" x2="738.4" y2="176.0" stroke="#858585" stroke-width="0.9"/>
<text x="544.5" y="87.6" font-size="11.5" text-anchor="start" font-weight="bold" fill="#111" >c</text>
<text x="577.5" y="84.0" font-size="9.4" text-anchor="start" font-weight="normal" fill="#222" >ΔT ≈ 8.9 °C</text>
<text transform="translate(556.2,129.2) rotate(-90)" font-size="10.2" text-anchor="middle" fill="#111">Temperature (<tspan font-size="6.4" dy="-3.9">o</tspan><tspan dy="3.9">C)</tspan></text>
<line x1="638" y1="95.2" x2="656" y2="95.2" stroke="#ff7f16" stroke-width="1.4"/>
<text x="658.3" y="97.8" font-size="7.6" text-anchor="start" font-weight="normal" fill="#222" >Ambient temperature</text>
<line x1="638" y1="104.7" x2="656" y2="104.7" stroke="#1f6fb4" stroke-width="1.4"/>
<text x="658.3" y="107.3" font-size="7.6" text-anchor="start" font-weight="normal" fill="#222" >PMMA <tspan font-size="5.8" dy="1.7">HPA</tspan><tspan dy="-1.7"> temperature</tspan></text>
<g clip-path="url(#cp01)"><path d="M143.0,230.5 L143.7,230.8 L144.4,229.6 L145.1,230.0 L145.8,228.6 L146.5,229.7 L147.2,233.0 L147.9,235.4 L148.6,237.0 L149.3,234.9 L150.0,233.6 L150.7,236.6 L151.4,237.4 L152.1,235.5 L152.8,232.7 L153.5,231.2 L154.2,231.6 L154.9,229.9 L155.6,230.9 L156.3,229.2 L157.0,230.4 L157.7,235.2 L158.4,230.9 L159.1,228.2 L159.8,227.1 L160.5,225.3 L161.2,226.5 L161.9,224.4 L162.6,226.2 L163.3,226.4 L164.0,226.0 L164.7,224.7 L165.4,224.0 L166.1,224.9 L166.8,224.5 L167.5,224.1 L168.2,223.7 L168.9,223.9 L169.6,224.2 L170.3,224.3 L171.0,224.1 L171.7,221.5 L172.4,221.0 L173.1,220.8 L173.8,221.0 L174.5,221.6 L175.2,222.3 L175.9,223.0 L176.6,224.8 L177.3,225.1 L178.0,223.0 L178.7,223.6 L179.4,225.6 L180.1,228.0 L180.8,228.4 L181.5,225.6 L182.2,224.2 L182.9,220.9 L183.6,222.5 L184.3,222.9 L185.0,222.3 L185.7,223.1 L186.4,224.6 L187.1,223.8 L187.8,223.5 L188.5,221.8 L189.2,221.1 L189.9,223.0 L190.6,222.1 L191.3,223.4 L192.0,225.5 L192.7,225.1 L193.4,224.0 L194.1,225.4 L194.8,224.9 L195.5,225.4 L196.2,225.0 L196.9,225.2 L197.6,225.4 L198.3,224.9 L199.0,224.0 L199.7,223.8 L200.4,224.0 L201.1,221.5 L201.8,219.9 L202.5,222.1 L203.2,221.0 L203.9,220.6 L204.6,222.0 L205.3,221.8 L206.0,222.6 L206.7,222.9 L207.4,221.6 L208.1,222.0 L208.8,220.4 L209.5,220.9 L210.2,220.9 L210.9,219.0 L211.6,221.5 L212.3,222.4 L213.0,225.1 L213.7,226.2 L214.4,225.0 L215.1,224.7 L215.8,224.2 L216.5,221.8 L217.2,223.3 L217.9,222.3 L218.6,219.8 L219.3,221.6 L220.0,220.9 L220.7,220.3 L221.4,222.5 L222.1,222.0 L222.8,222.7 L223.5,220.9 L224.2,222.0 L224.9,219.9 L225.6,219.7 L226.3,219.8 L227.0,218.5 L227.7,219.6 L228.4,219.8 L229.1,221.0 L229.8,222.8 L230.5,222.0 L231.2,222.9 L231.9,222.2 L232.6,222.6 L233.3,222.0 L234.0,223.3 L234.7,223.7 L235.4,222.2 L236.1,223.9 L236.8,223.4 L237.5,224.7 L238.2,224.1 L238.9,224.0 L239.6,221.5 L240.3,222.0 L241.0,223.2 L241.7,224.1 L242.4,223.7 L243.1,221.7 L243.8,223.0 L244.5,222.1 L245.2,223.7 L245.9,225.1 L246.6,223.8 L247.3,226.3 L248.0,226.4 L248.7,225.6 L249.4,225.7 L250.1,226.2 L250.8,226.8 L251.5,225.6 L252.2,224.2 L252.9,225.7 L253.6,227.8 L254.3,231.4 L255.0,229.5 L255.7,229.8 L256.4,228.7 L257.1,230.0 L257.8,229.7 L258.5,229.4 L259.2,231.7 L259.9,231.6 L260.6,232.4 L261.3,232.8 L262.0,232.9 L262.7,229.8 L263.4,229.8 L264.1,228.9 L264.8,229.4 L265.5,230.2 L266.2,230.3 L266.9,228.1 L267.6,228.1 L268.3,229.9 L269.0,229.9 L269.7,229.6 L270.4,230.2 L271.1,229.9 L271.8,232.2 L272.5,231.8 L273.2,233.5 L273.9,233.4 L274.6,232.2 L275.3,233.1 L276.0,233.3 L276.7,235.6 L277.4,235.5 L278.1,234.5 L278.8,235.7 L279.5,237.3 L280.2,238.9 L280.9,239.6 L281.6,237.5 L282.3,235.7 L283.0,234.9 L283.7,242.8 L284.4,237.0 L285.1,234.8 L285.8,236.5 L286.5,238.7 L287.2,236.9 L287.9,237.3 L288.6,239.4 L289.3,239.1 L290.0,239.5 L290.7,240.3 L291.4,239.9 L292.1,240.8 L292.8,241.0 L293.5,242.3 L294.2,243.4 L294.9,241.6 L295.6,243.5 L296.3,245.1 L297.0,246.5 L297.7,247.1 L298.4,246.9 L299.1,246.2 L299.8,244.8 L300.5,243.8 L301.2,244.6 L301.9,244.5 L302.6,244.2 L303.3,244.3 L304.0,243.9 L304.7,245.8 L305.4,246.7 L306.1,247.2 L306.8,250.3 L307.5,252.3 L308.2,255.6 L309.5,256.0 L309.5,294.5 L143.0,294.5 Z" fill="#fee4c8" stroke="none"/>
<polyline points="143.0,230.5 143.7,230.8 144.4,229.6 145.1,230.0 145.8,228.6 146.5,229.7 147.2,233.0 147.9,235.4 148.6,237.0 149.3,234.9 150.0,233.6 150.7,236.6 151.4,237.4 152.1,235.5 152.8,232.7 153.5,231.2 154.2,231.6 154.9,229.9 155.6,230.9 156.3,229.2 157.0,230.4 157.7,235.2 158.4,230.9 159.1,228.2 159.8,227.1 160.5,225.3 161.2,226.5 161.9,224.4 162.6,226.2 163.3,226.4 164.0,226.0 164.7,224.7 165.4,224.0 166.1,224.9 166.8,224.5 167.5,224.1 168.2,223.7 168.9,223.9 169.6,224.2 170.3,224.3 171.0,224.1 171.7,221.5 172.4,221.0 173.1,220.8 173.8,221.0 174.5,221.6 175.2,222.3 175.9,223.0 176.6,224.8 177.3,225.1 178.0,223.0 178.7,223.6 179.4,225.6 180.1,228.0 180.8,228.4 181.5,225.6 182.2,224.2 182.9,220.9 183.6,222.5 184.3,222.9 185.0,222.3 185.7,223.1 186.4,224.6 187.1,223.8 187.8,223.5 188.5,221.8 189.2,221.1 189.9,223.0 190.6,222.1 191.3,223.4 192.0,225.5 192.7,225.1 193.4,224.0 194.1,225.4 194.8,224.9 195.5,225.4 196.2,225.0 196.9,225.2 197.6,225.4 198.3,224.9 199.0,224.0 199.7,223.8 200.4,224.0 201.1,221.5 201.8,219.9 202.5,222.1 203.2,221.0 203.9,220.6 204.6,222.0 205.3,221.8 206.0,222.6 206.7,222.9 207.4,221.6 208.1,222.0 208.8,220.4 209.5,220.9 210.2,220.9 210.9,219.0 211.6,221.5 212.3,222.4 213.0,225.1 213.7,226.2 214.4,225.0 215.1,224.7 215.8,224.2 216.5,221.8 217.2,223.3 217.9,222.3 218.6,219.8 219.3,221.6 220.0,220.9 220.7,220.3 221.4,222.5 222.1,222.0 222.8,222.7 223.5,220.9 224.2,222.0 224.9,219.9 225.6,219.7 226.3,219.8 227.0,218.5 227.7,219.6 228.4,219.8 229.1,221.0 229.8,222.8 230.5,222.0 231.2,222.9 231.9,222.2 232.6,222.6 233.3,222.0 234.0,223.3 234.7,223.7 235.4,222.2 236.1,223.9 236.8,223.4 237.5,224.7 238.2,224.1 238.9,224.0 239.6,221.5 240.3,222.0 241.0,223.2 241.7,224.1 242.4,223.7 243.1,221.7 243.8,223.0 244.5,222.1 245.2,223.7 245.9,225.1 246.6,223.8 247.3,226.3 248.0,226.4 248.7,225.6 249.4,225.7 250.1,226.2 250.8,226.8 251.5,225.6 252.2,224.2 252.9,225.7 253.6,227.8 254.3,231.4 255.0,229.5 255.7,229.8 256.4,228.7 257.1,230.0 257.8,229.7 258.5,229.4 259.2,231.7 259.9,231.6 260.6,232.4 261.3,232.8 262.0,232.9 262.7,229.8 263.4,229.8 264.1,228.9 264.8,229.4 265.5,230.2 266.2,230.3 266.9,228.1 267.6,228.1 268.3,229.9 269.0,229.9 269.7,229.6 270.4,230.2 271.1,229.9 271.8,232.2 272.5,231.8 273.2,233.5 273.9,233.4 274.6,232.2 275.3,233.1 276.0,233.3 276.7,235.6 277.4,235.5 278.1,234.5 278.8,235.7 279.5,237.3 280.2,238.9 280.9,239.6 281.6,237.5 282.3,235.7 283.0,234.9 283.7,242.8 284.4,237.0 285.1,234.8 285.8,236.5 286.5,238.7 287.2,236.9 287.9,237.3 288.6,239.4 289.3,239.1 290.0,239.5 290.7,240.3 291.4,239.9 292.1,240.8 292.8,241.0 293.5,242.3 294.2,243.4 294.9,241.6 295.6,243.5 296.3,245.1 297.0,246.5 297.7,247.1 298.4,246.9 299.1,246.2 299.8,244.8 300.5,243.8 301.2,244.6 301.9,244.5 302.6,244.2 303.3,244.3 304.0,243.9 304.7,245.8 305.4,246.7 306.1,247.2 306.8,250.3 307.5,252.3 308.2,255.6 309.5,256.0" fill="none" stroke="#f7ab55" stroke-width="1.25" stroke-linejoin="round" />
</g>
<rect x="143.0" y="207.5" width="166.5" height="87.0" fill="none" stroke="#a0a0a0" stroke-width="1.3"/>
<line x1="141.0" y1="207.5" x2="143.0" y2="207.5" stroke="#858585" stroke-width="1"/>
<text x="140.4" y="210.3" font-size="8.0" text-anchor="end" font-weight="normal" fill="#111" >1000</text>
<line x1="141.0" y1="218.4" x2="143.0" y2="218.4" stroke="#858585" stroke-width="1"/>
<text x="140.4" y="221.2" font-size="8.0" text-anchor="end" font-weight="normal" fill="#111" >950</text>
<line x1="141.0" y1="229.2" x2="143.0" y2="229.2" stroke="#858585" stroke-width="1"/>
<text x="140.4" y="232.1" font-size="8.0" text-anchor="end" font-weight="normal" fill="#111" >900</text>
<line x1="141.0" y1="240.1" x2="143.0" y2="240.1" stroke="#858585" stroke-width="1"/>
<text x="140.4" y="243.0" font-size="8.0" text-anchor="end" font-weight="normal" fill="#111" >850</text>
<line x1="141.0" y1="251.0" x2="143.0" y2="251.0" stroke="#858585" stroke-width="1"/>
<text x="140.4" y="253.8" font-size="8.0" text-anchor="end" font-weight="normal" fill="#111" >800</text>
<line x1="141.0" y1="261.9" x2="143.0" y2="261.9" stroke="#858585" stroke-width="1"/>
<text x="140.4" y="264.7" font-size="8.0" text-anchor="end" font-weight="normal" fill="#111" >750</text>
<line x1="141.0" y1="272.8" x2="143.0" y2="272.8" stroke="#858585" stroke-width="1"/>
<text x="140.4" y="275.6" font-size="8.0" text-anchor="end" font-weight="normal" fill="#111" >700</text>
<line x1="141.0" y1="283.6" x2="143.0" y2="283.6" stroke="#858585" stroke-width="1"/>
<text x="140.4" y="286.5" font-size="8.0" text-anchor="end" font-weight="normal" fill="#111" >650</text>
<line x1="141.0" y1="294.5" x2="143.0" y2="294.5" stroke="#858585" stroke-width="1"/>
<text x="140.4" y="297.4" font-size="8.0" text-anchor="end" font-weight="normal" fill="#111" >600</text>
<line x1="141.8" y1="212.9" x2="143.0" y2="212.9" stroke="#858585" stroke-width="0.8"/>
<line x1="141.8" y1="223.8" x2="143.0" y2="223.8" stroke="#858585" stroke-width="0.8"/>
<line x1="141.8" y1="234.7" x2="143.0" y2="234.7" stroke="#858585" stroke-width="0.8"/>
<line x1="141.8" y1="245.6" x2="143.0" y2="245.6" stroke="#858585" stroke-width="0.8"/>
<line x1="141.8" y1="256.4" x2="143.0" y2="256.4" stroke="#858585" stroke-width="0.8"/>
<line x1="141.8" y1="267.3" x2="143.0" y2="267.3" stroke="#858585" stroke-width="0.8"/>
<line x1="141.8" y1="278.2" x2="143.0" y2="278.2" stroke="#858585" stroke-width="0.8"/>
<line x1="141.8" y1="289.1" x2="143.0" y2="289.1" stroke="#858585" stroke-width="0.8"/>
<line x1="145.0" y1="293.0" x2="145.0" y2="294.5" stroke="#858585" stroke-width="0.9"/>
<line x1="165.3" y1="293.5" x2="165.3" y2="294.5" stroke="#858585" stroke-width="0.8"/>
<line x1="185.6" y1="293.0" x2="185.6" y2="294.5" stroke="#858585" stroke-width="0.9"/>
<line x1="205.9" y1="293.5" x2="205.9" y2="294.5" stroke="#858585" stroke-width="0.8"/>
<line x1="226.2" y1="293.0" x2="226.2" y2="294.5" stroke="#858585" stroke-width="0.9"/>
<line x1="246.5" y1="293.5" x2="246.5" y2="294.5" stroke="#858585" stroke-width="0.8"/>
<line x1="266.8" y1="293.0" x2="266.8" y2="294.5" stroke="#858585" stroke-width="0.9"/>
<line x1="287.1" y1="293.5" x2="287.1" y2="294.5" stroke="#858585" stroke-width="0.8"/>
<line x1="307.4" y1="293.0" x2="307.4" y2="294.5" stroke="#858585" stroke-width="0.9"/>
<text x="102.5" y="205.8" font-size="11.5" text-anchor="start" font-weight="bold" fill="#111" >d</text>
<text x="142.0" y="202.5" font-size="12" text-anchor="start" font-weight="bold" fill="#111" >•Shanghai city</text>
<text x="309.5" y="201.5" font-size="8.8" text-anchor="end" font-weight="normal" fill="#222" >SI ≈ 900 W/m^2</text>
<text transform="translate(120.5,251.5) rotate(-90)" font-size="9.9" text-anchor="middle" fill="#111">Solar irradiance (W/m<tspan font-size="7.0" dy="-4.0">2</tspan><tspan dy="4.0">)</tspan></text>
<g clip-path="url(#cp11)">
<polyline points="347.0,293.7 347.5,277.5 348.0,285.3 348.5,280.0 349.0,229.2 349.5,280.3 350.0,284.6 350.5,272.1 351.0,281.8 351.5,262.6 352.0,294.0 352.5,269.3 353.0,289.5 353.5,276.3 354.0,274.9 354.5,259.6 355.0,294.5 355.5,274.1 356.0,287.4 356.5,272.0 357.0,294.5 357.5,279.4 358.0,294.5 358.5,286.9 359.0,292.3 359.5,281.2 360.0,230.7 360.5,270.0 361.0,294.5 361.5,274.2 362.0,281.1 362.5,256.7 363.0,280.0 363.5,259.7 364.0,287.3 364.5,280.3 365.0,290.7 365.5,264.6 366.0,283.0 366.5,262.6 367.0,292.6 367.5,271.6 368.0,294.5 368.5,275.6 369.0,294.3 369.5,280.0 370.0,248.1 370.5,271.8 371.0,284.1 371.5,270.2 372.0,288.8 372.5,275.7 373.0,283.9 373.5,261.2 374.0,292.6 374.5,285.8 375.0,294.5 375.5,279.3 376.0,279.8 376.5,264.7 377.0,287.4 377.5,283.1 378.0,292.5 378.5,285.9 379.0,294.5 379.5,287.0 380.0,293.7 380.5,247.3 381.0,282.1 381.5,273.1 382.0,294.5 382.5,267.8 383.0,280.7 383.5,271.4 384.0,291.0 384.5,273.9 385.0,294.5 385.5,290.1 386.0,291.7 386.5,285.5 387.0,251.0 387.5,273.0 388.0,288.3 388.5,272.0 389.0,288.2 389.5,272.9 390.0,291.8 390.5,271.0 391.0,277.5 391.5,268.9 392.0,272.5 392.5,254.9 393.0,286.6 393.5,276.2 394.0,294.5 394.5,278.7 395.0,279.5 395.5,267.6 396.0,281.0 396.5,236.5 397.0,282.1 397.5,268.7 398.0,278.9 398.5,267.3 399.0,292.5 399.5,277.3 400.0,289.5 400.5,277.6 401.0,292.3 401.5,271.1 402.0,273.0 402.5,261.6 403.0,287.2 403.5,267.7 404.0,292.5 404.5,258.4 405.0,277.2 405.5,273.4 406.0,273.1 406.5,263.1 407.0,282.8 407.5,256.3 408.0,276.3 408.5,267.0 409.0,276.2 409.5,265.5 410.0,272.5 410.5,262.9 411.0,281.2 411.5,261.5 412.0,271.2 412.5,264.0 413.0,281.5 413.5,260.0 414.0,293.2 414.5,237.9 415.0,283.2 415.5,267.4 416.0,275.9 416.5,269.3 417.0,289.9 417.5,279.1 418.0,292.5 418.5,271.7 419.0,291.4 419.5,280.7 420.0,284.6 420.5,263.4 421.0,227.8 421.5,273.6 422.0,288.2 422.5,267.4 423.0,290.2 423.5,271.0 424.0,294.1 424.5,266.7 425.0,280.8 425.5,261.4 426.0,272.5 426.5,266.2 427.0,272.3 427.5,268.2 428.0,272.4 428.5,268.2 429.0,280.6 429.5,271.5 430.0,290.5 430.5,246.7 431.0,293.1 431.5,270.9 432.0,277.0 432.5,269.7 433.0,268.7 433.5,256.2 434.0,237.9 434.5,264.2 435.0,275.0 435.5,264.5 436.0,266.8 436.5,249.8 437.0,271.2 437.5,235.9 438.0,272.5 438.5,263.8 439.0,278.9 439.5,267.0 440.0,279.7 440.5,258.3 441.0,292.4 441.5,261.2 442.0,270.0 442.5,250.8 443.0,274.0 443.5,247.7 444.0,230.7 444.5,262.9 445.0,293.2 445.5,260.2 446.0,266.9 446.5,245.4 447.0,236.5 447.5,244.2 448.0,255.7 448.5,253.9 449.0,268.5 449.5,254.8 450.0,258.1 450.5,248.1 451.0,292.1 451.5,251.2 452.0,266.9 452.5,249.7 453.0,292.1 453.5,247.5 454.0,280.0 454.5,261.3 455.0,279.5 455.5,252.0 456.0,283.0 456.5,267.1 457.0,280.1 457.5,261.6 458.0,284.6 458.5,261.0 459.0,261.1 459.5,254.8 460.0,293.4 460.5,254.4 461.0,267.2 461.5,250.7 462.0,271.4 462.5,251.5 463.0,280.7 463.5,261.1 464.0,274.6 464.5,267.3 465.0,266.3 465.5,242.5 466.0,273.8 466.5,266.4 467.0,287.2 467.5,263.2 468.0,289.2 468.5,267.1 469.0,290.4 469.5,265.1 470.0,292.5 470.5,264.9 471.0,294.2 471.5,275.4 472.0,294.5 472.5,271.5 473.0,282.1 473.5,260.7 474.0,286.3 474.5,265.6 475.0,294.5 475.5,281.3 476.0,292.0 476.5,274.3 477.0,290.2 477.5,267.7 478.0,281.1 478.5,268.8 479.0,289.0 479.5,275.3 480.0,282.8 480.5,271.2 481.0,293.4 481.5,287.2 482.0,293.8 482.5,271.9 483.0,289.4 483.5,273.4 484.0,289.9 484.5,278.8 485.0,284.2 485.5,266.8 486.0,285.6 486.5,252.9 487.0,291.5 487.5,274.6 488.0,284.2 488.5,274.3 489.0,282.5 489.5,271.8 490.0,287.3 490.5,269.4 491.0,289.4 491.5,269.7 492.0,293.5 492.5,264.8 493.0,289.4 493.5,282.3 494.0,294.2 494.5,264.4 495.0,289.8 495.5,277.1 496.0,286.6 496.5,260.2 497.0,286.6 497.5,265.6 498.0,292.5 498.5,278.1 499.0,292.8 499.5,279.6 500.0,291.2 500.5,276.9 501.0,293.7 501.5,280.1 502.0,290.2 502.5,281.0 503.0,291.0 503.5,272.7 504.0,294.4 504.5,279.3 505.0,294.2 505.5,272.7 506.0,290.8 506.5,280.4 507.0,294.5 507.5,270.9 508.0,291.7 508.5,271.4 509.0,292.3 509.5,288.4 510.0,292.6 510.5,281.9 511.0,282.5 511.5,270.5 512.0,292.7 512.5,275.9" fill="none" stroke="#78c8f7" stroke-width="1.0" stroke-linejoin="round" />
<polyline points="347.0,256.0 347.7,253.6 348.4,251.3 349.1,250.2 349.8,247.9 350.5,247.7 351.2,248.4 351.9,249.1 352.6,250.3 353.3,251.3 354.0,252.7 354.7,253.3 355.4,255.0 356.1,257.3 356.8,259.3 357.5,258.1 358.2,254.5 358.9,253.5 359.6,252.0 360.3,250.8 361.0,253.3 361.7,253.7 362.4,256.8 363.1,257.8 363.8,259.9 364.5,258.7 365.2,257.4 365.9,256.3 366.6,255.0 367.3,253.3 368.0,252.7 368.7,254.2 369.4,254.1 370.1,254.8 370.8,254.9 371.5,255.2 372.2,255.9 372.9,255.7 373.6,253.9 374.3,252.8 375.0,252.2 375.7,250.6 376.4,250.0 377.1,250.7 377.8,251.1 378.5,250.1 379.2,250.9 379.9,251.2 380.6,251.5 381.3,251.5 382.0,251.1 382.7,250.2 383.4,252.5 384.1,253.4 384.8,255.5 385.5,256.8 386.2,258.7 386.9,261.3 387.6,261.5 388.3,261.9 389.0,259.6 389.7,256.9 390.4,255.1 391.1,252.1 391.8,253.5 392.5,253.9 393.2,255.0 393.9,253.8 394.6,254.4 395.3,255.1 396.0,257.0 396.7,256.0 397.4,256.8 398.1,258.4 398.8,259.9 399.5,259.0 400.2,260.0 400.9,261.2 401.6,262.1 402.3,263.0 403.0,264.0 403.7,263.9 404.4,264.6 405.1,264.6 405.8,263.5 406.5,260.4 407.2,258.1 407.9,257.2 408.6,257.1 409.3,257.6 410.0,258.4 410.7,259.0 411.4,259.9 412.1,259.8 412.8,259.8 413.5,260.4 414.2,260.6 414.9,260.6 415.6,259.5 416.3,258.7 417.0,258.8 417.7,259.2 418.4,258.2 419.1,256.5 419.8,256.7 420.5,254.9 421.2,254.0 421.9,254.1 422.6,254.2 423.3,254.6 424.0,254.0 424.7,255.3 425.4,254.9 426.1,257.2 426.8,257.1 427.5,258.8 428.2,257.7 428.9,258.4 429.6,256.7 430.3,257.2 431.0,256.7 431.7,255.7 432.4,254.2 433.1,254.2 433.8,255.6 434.5,258.4 435.2,258.4 435.9,260.4 436.6,261.7 437.3,262.7 438.0,260.9 438.7,259.7 439.4,258.6 440.1,259.5 440.8,257.7 441.5,257.2 442.2,256.1 442.9,254.5 443.6,253.9 444.3,254.5 445.0,257.1 445.7,256.8 446.4,259.2 447.1,259.2 447.8,259.8 448.5,258.6 449.2,259.6 449.9,258.6 450.6,258.6 451.3,258.8 452.0,258.0 452.7,258.0 453.4,259.2 454.1,258.3 454.8,258.4 455.5,259.2 456.2,258.2 456.9,258.0 457.6,258.0 458.3,258.3 459.0,258.7 459.7,260.3 460.4,261.0 461.1,262.7 461.8,262.1 462.5,264.0 463.2,265.5 463.9,265.4 464.6,264.7 465.3,264.3 466.0,262.6 466.7,262.0 467.4,261.4 468.1,259.4 468.8,259.2 469.5,259.8 470.2,259.2 470.9,259.2 471.6,259.5 472.3,258.9 473.0,258.6 473.7,259.1 474.4,259.4 475.1,260.3 475.8,259.4 476.5,257.7 477.2,257.1 477.9,257.6 478.6,256.8 479.3,256.8 480.0,256.5 480.7,255.7 481.4,253.5 482.1,254.9 482.8,254.8 483.5,254.5 484.2,254.7 484.9,256.6 485.6,256.0 486.3,255.8 487.0,256.4 487.7,258.1 488.4,257.7 489.1,258.4 489.8,257.4 490.5,258.3 491.2,258.0 491.9,257.0 492.6,257.2 493.3,256.1 494.0,254.8 494.7,255.7 495.4,254.3 496.1,252.9 496.8,251.7 497.5,252.2 498.2,252.0 498.9,251.4 499.6,252.4 500.3,253.5 501.0,253.5 501.7,253.2 502.4,253.9 503.1,254.5 503.8,254.5 504.5,253.3 505.2,254.2 505.9,254.4 506.6,254.2 507.3,254.7 508.0,254.1 508.7,255.3 509.4,254.4 510.1,254.6 510.8,255.6 511.5,256.8 512.2,255.6" fill="none" stroke="#153f68" stroke-width="1.25" stroke-linejoin="round" />
</g>
<rect x="347.0" y="207.5" width="165.5" height="87.0" fill="none" stroke="#a0a0a0" stroke-width="1.3"/>
<line x1="345.0" y1="207.5" x2="347.0" y2="207.5" stroke="#858585" stroke-width="1"/>
<text x="344.4" y="210.3" font-size="8.0" text-anchor="end" font-weight="normal" fill="#111" >3.0</text>
<line x1="345.0" y1="222.0" x2="347.0" y2="222.0" stroke="#858585" stroke-width="1"/>
<text x="344.4" y="224.8" font-size="8.0" text-anchor="end" font-weight="normal" fill="#111" >2.5</text>
<line x1="345.0" y1="236.5" x2="347.0" y2="236.5" stroke="#858585" stroke-width="1"/>
<text x="344.4" y="239.3" font-size="8.0" text-anchor="end" font-weight="normal" fill="#111" >2.0</text>
<line x1="345.0" y1="251.0" x2="347.0" y2="251.0" stroke="#858585" stroke-width="1"/>
<text x="344.4" y="253.8" font-size="8.0" text-anchor="end" font-weight="normal" fill="#111" >1.5</text>
<line x1="345.0" y1="265.5" x2="347.0" y2="265.5" stroke="#858585" stroke-width="1"/>
<text x="344.4" y="268.4" font-size="8.0" text-anchor="end" font-weight="normal" fill="#111" >1.0</text>
<line x1="345.0" y1="280.0" x2="347.0" y2="280.0" stroke="#858585" stroke-width="1"/>
<text x="344.4" y="282.9" font-size="8.0" text-anchor="end" font-weight="normal" fill="#111" >0.5</text>
<line x1="345.0" y1="294.5" x2="347.0" y2="294.5" stroke="#858585" stroke-width="1"/>
<text x="344.4" y="297.4" font-size="8.0" text-anchor="end" font-weight="normal" fill="#111" >0.0</text>
<line x1="345.8" y1="214.8" x2="347.0" y2="214.8" stroke="#858585" stroke-width="0.8"/>
<line x1="345.8" y1="229.2" x2="347.0" y2="229.2" stroke="#858585" stroke-width="0.8"/>
<line x1="345.8" y1="243.8" x2="347.0" y2="243.8" stroke="#858585" stroke-width="0.8"/>
<line x1="345.8" y1="258.2" x2="347.0" y2="258.2" stroke="#858585" stroke-width="0.8"/>
<line x1="345.8" y1="272.8" x2="347.0" y2="272.8" stroke="#858585" stroke-width="0.8"/>
<line x1="345.8" y1="287.2" x2="347.0" y2="287.2" stroke="#858585" stroke-width="0.8"/>
<line x1="512.5" y1="207.5" x2="514.5" y2="207.5" stroke="#858585" stroke-width="1"/>
<text x="515.0" y="210.3" font-size="8.0" text-anchor="start" font-weight="normal" fill="#111" >70</text>
<line x1="512.5" y1="218.4" x2="514.5" y2="218.4" stroke="#858585" stroke-width="1"/>
<text x="515.0" y="221.2" font-size="8.0" text-anchor="start" font-weight="normal" fill="#111" >65</text>
<line x1="512.5" y1="229.2" x2="514.5" y2="229.2" stroke="#858585" stroke-width="1"/>
<text x="515.0" y="232.1" font-size="8.0" text-anchor="start" font-weight="normal" fill="#111" >60</text>
<line x1="512.5" y1="240.1" x2="514.5" y2="240.1" stroke="#858585" stroke-width="1"/>
<text x="515.0" y="243.0" font-size="8.0" text-anchor="start" font-weight="normal" fill="#111" >55</text>
<line x1="512.5" y1="251.0" x2="514.5" y2="251.0" stroke="#858585" stroke-width="1"/>
<text x="515.0" y="253.8" font-size="8.0" text-anchor="start" font-weight="normal" fill="#111" >50</text>
<line x1="512.5" y1="261.9" x2="514.5" y2="261.9" stroke="#858585" stroke-width="1"/>
<text x="515.0" y="264.7" font-size="8.0" text-anchor="start" font-weight="normal" fill="#111" >45</text>
<line x1="512.5" y1="272.8" x2="514.5" y2="272.8" stroke="#858585" stroke-width="1"/>
<text x="515.0" y="275.6" font-size="8.0" text-anchor="start" font-weight="normal" fill="#111" >40</text>
<line x1="512.5" y1="283.6" x2="514.5" y2="283.6" stroke="#858585" stroke-width="1"/>
<text x="515.0" y="286.5" font-size="8.0" text-anchor="start" font-weight="normal" fill="#111" >35</text>
<line x1="512.5" y1="294.5" x2="514.5" y2="294.5" stroke="#858585" stroke-width="1"/>
<text x="515.0" y="297.4" font-size="8.0" text-anchor="start" font-weight="normal" fill="#111" >30</text>
<line x1="512.5" y1="212.9" x2="513.7" y2="212.9" stroke="#858585" stroke-width="0.8"/>
<line x1="512.5" y1="223.8" x2="513.7" y2="223.8" stroke="#858585" stroke-width="0.8"/>
<line x1="512.5" y1="234.7" x2="513.7" y2="234.7" stroke="#858585" stroke-width="0.8"/>
<line x1="512.5" y1="245.6" x2="513.7" y2="245.6" stroke="#858585" stroke-width="0.8"/>
<line x1="512.5" y1="256.4" x2="513.7" y2="256.4" stroke="#858585" stroke-width="0.8"/>
<line x1="512.5" y1="267.3" x2="513.7" y2="267.3" stroke="#858585" stroke-width="0.8"/>
<line x1="512.5" y1="278.2" x2="513.7" y2="278.2" stroke="#858585" stroke-width="0.8"/>
<line x1="512.5" y1="289.1" x2="513.7" y2="289.1" stroke="#858585" stroke-width="0.8"/>
<line x1="349.0" y1="293.0" x2="349.0" y2="294.5" stroke="#858585" stroke-width="0.9"/>
<line x1="369.3" y1="293.5" x2="369.3" y2="294.5" stroke="#858585" stroke-width="0.8"/>
<line x1="389.6" y1="293.0" x2="389.6" y2="294.5" stroke="#858585" stroke-width="0.9"/>
<line x1="409.9" y1="293.5" x2="409.9" y2="294.5" stroke="#858585" stroke-width="0.8"/>
<line x1="430.2" y1="293.0" x2="430.2" y2="294.5" stroke="#858585" stroke-width="0.9"/>
<line x1="450.5" y1="293.5" x2="450.5" y2="294.5" stroke="#858585" stroke-width="0.8"/>
<line x1="470.8" y1="293.0" x2="470.8" y2="294.5" stroke="#858585" stroke-width="0.9"/>
<line x1="491.1" y1="293.5" x2="491.1" y2="294.5" stroke="#858585" stroke-width="0.8"/>
<line x1="511.4" y1="293.0" x2="511.4" y2="294.5" stroke="#858585" stroke-width="0.9"/>
<text x="316.5" y="205.8" font-size="11.5" text-anchor="start" font-weight="bold" fill="#111" >e</text>
<text x="344.5" y="201.5" font-size="8.7" text-anchor="start" font-weight="normal" fill="#222" >WS ≈ 0.6 m/s, RH ≈ 47%</text>
<text transform="translate(329.5,250.8) rotate(-90)" font-size="9.85" text-anchor="middle" fill="#111">Wind Speed (m/s)</text>
<text transform="translate(534.7,249.5) rotate(-90)" font-size="9.9" text-anchor="middle" fill="#111">Relative Humidity (%)</text>
<line x1="432" y1="213.8" x2="450" y2="213.8" stroke="#a6dcf8" stroke-width="2"/>
<text x="451.5" y="216.4" font-size="7.6" text-anchor="start" font-weight="normal" fill="#222" >Wind Speed</text>
<line x1="432" y1="223.2" x2="450" y2="223.2" stroke="#2e5f8a" stroke-width="1.3"/>
<text x="451.5" y="225.8" font-size="7.6" text-anchor="start" font-weight="normal" fill="#222" >Relative Humidity</text>
<g clip-path="url(#cp21)">
<polyline points="574.0,245.7 574.8,248.6 575.5,257.4 576.2,250.8 577.0,257.0 577.8,248.3 578.5,238.3 579.2,234.0 580.0,237.2 580.8,230.4 581.5,235.2 582.2,237.7 583.0,243.6 583.8,248.9 584.5,249.7 585.2,254.7 586.0,256.5 586.8,250.2 587.5,248.1 588.2,242.1 589.0,236.7 589.8,240.3 590.5,240.8 591.2,245.4 592.0,236.9 592.8,244.4 593.5,249.7 594.2,246.3 595.0,252.6 595.8,249.1 596.5,242.8 597.2,246.4 598.0,241.8 598.8,235.0 599.5,236.7 600.2,240.7 601.0,245.5 601.8,250.0 602.5,247.4 603.2,251.2 604.0,258.0 604.8,251.9 605.5,254.8 606.2,253.9 607.0,255.6 607.8,255.0 608.5,255.0 609.2,249.2 610.0,246.2 610.8,237.5 611.5,240.0 612.2,236.0 613.0,237.1 613.8,234.5 614.5,243.8 615.2,242.1 616.0,253.3 616.8,256.5 617.5,256.4 618.2,256.6 619.0,250.7 619.8,257.1 620.5,253.9 621.2,248.0 622.0,245.3 622.8,235.3 623.5,237.0 624.2,237.4 625.0,234.2 625.8,241.3 626.5,242.2 627.2,241.5 628.0,239.0 628.8,236.8 629.5,234.8 630.2,229.6 631.0,236.5 631.8,239.7 632.5,243.1 633.2,253.3 634.0,248.6 634.8,251.6 635.5,246.2 636.2,238.4 637.0,238.1 637.8,234.9 638.5,237.0 639.2,241.2 640.0,243.7 640.8,241.6 641.5,249.6 642.2,247.2 643.0,249.4 643.8,253.9 644.5,255.2 645.2,254.0 646.0,246.8 646.8,255.0 647.5,253.0 648.2,259.0 649.0,253.6 649.8,255.8 650.5,247.1 651.2,247.8 652.0,242.7 652.8,239.1 653.5,238.2 654.2,240.2 655.0,232.8 655.8,237.5 656.5,233.6 657.2,232.8 658.0,238.8 658.8,243.2 659.5,244.9 660.2,236.4 661.0,236.9 661.8,228.9 662.5,230.3 663.2,233.7 664.0,233.4 664.8,236.6 665.5,232.1 666.2,240.9 667.0,249.0 667.8,252.1 668.5,250.2 669.2,253.7 670.0,242.8 670.8,251.2 671.5,246.7 672.2,247.1 673.0,247.1 673.8,242.3 674.5,244.4 675.2,248.5 676.0,242.9 676.8,249.6 677.5,241.4 678.2,242.8 679.0,239.2 679.8,237.8 680.5,247.1 681.2,248.8 682.0,254.3 682.8,256.0 683.5,256.3 684.2,249.6 685.0,252.5 685.8,252.0 686.5,250.0 687.2,248.5 688.0,242.7 688.8,240.8 689.5,236.9 690.2,227.7 691.0,229.2 691.8,233.3 692.5,228.8 693.2,226.9 694.0,231.0 694.8,231.0 695.5,232.5 696.2,243.2 697.0,241.3 697.8,240.8 698.5,238.9 699.2,237.3 700.0,239.2 700.8,232.7 701.5,237.5 702.2,244.8 703.0,236.7 703.8,249.1 704.5,249.8 705.2,245.6 706.0,249.2 706.8,243.9 707.5,242.9 708.2,246.7 709.0,251.5 709.8,252.6 710.5,255.0 711.2,260.3 712.0,263.2 712.8,261.1 713.5,251.8 714.2,257.4 715.0,247.8 715.8,248.3 716.5,251.7 717.2,250.3 718.0,248.2 718.8,251.9 719.5,249.0 720.2,252.3 721.0,254.1 721.8,252.3 722.5,254.4 723.2,252.1 724.0,251.8 724.8,256.5 725.5,254.7 726.2,256.2 727.0,247.9 727.8,252.1 728.5,253.1 729.2,250.1 730.0,250.9 730.8,255.8 731.5,258.4 732.2,254.1 733.0,252.9 733.8,249.2 734.5,251.1 735.2,250.7 736.0,247.6 736.8,252.4 737.5,256.5 738.2,254.9" fill="none" stroke="#ff8420" stroke-width="1.3" stroke-linejoin="round" />
<polyline points="574.0,274.7 574.7,275.2 575.4,275.5 576.1,277.1 576.8,277.7 577.5,276.7 578.2,277.2 578.9,276.7 579.6,275.7 580.3,275.5 581.0,275.4 581.7,274.3 582.4,273.7 583.1,274.1 583.8,275.0 584.5,275.9 585.2,276.8 585.9,277.4 586.6,276.1 587.3,275.9 588.0,276.1 588.7,275.8 589.4,275.2 590.1,274.9 590.8,274.2 591.5,274.5 592.2,273.9 592.9,273.5 593.6,273.0 594.3,272.8 595.0,273.6 595.7,273.6 596.4,272.5 597.1,272.6 597.8,272.7 598.5,272.6 599.2,272.4 599.9,272.9 600.6,272.2 601.3,272.2 602.0,272.9 602.7,272.7 603.4,272.6 604.1,272.5 604.8,272.6 605.5,273.0 606.2,273.4 606.9,272.9 607.6,273.0 608.3,273.2 609.0,273.3 609.7,274.1 610.4,273.8 611.1,273.4 611.8,273.3 612.5,273.8 613.2,273.0 613.9,273.4 614.6,272.5 615.3,272.4 616.0,272.2 616.7,273.0 617.4,272.4 618.1,272.5 618.8,272.5 619.5,272.9 620.2,273.7 620.9,274.0 621.6,274.4 622.3,274.7 623.0,274.4 623.7,275.0 624.4,274.0 625.1,274.6 625.8,274.0 626.5,273.3 627.2,273.7 627.9,273.8 628.6,273.0 629.3,272.3 630.0,273.0 630.7,272.7 631.4,272.3 632.1,272.5 632.8,271.2 633.5,271.0 634.2,271.0 634.9,270.8 635.6,271.6 636.3,271.6 637.0,270.9 637.7,270.8 638.4,270.7 639.1,271.2 639.8,271.4 640.5,271.7 641.2,271.0 641.9,271.6 642.6,271.0 643.3,270.7 644.0,270.5 644.7,270.4 645.4,271.2 646.1,271.4 646.8,271.0 647.5,270.4 648.2,270.4 648.9,270.5 649.6,270.9 650.3,271.6 651.0,270.9 651.7,271.5 652.4,272.0 653.1,271.3 653.8,271.8 654.5,272.5 655.2,272.6 655.9,272.7 656.6,273.6 657.3,273.6 658.0,273.5 658.7,273.0 659.4,273.0 660.1,272.3 660.8,271.7 661.5,270.5 662.2,269.2 662.9,268.5 663.6,269.0 664.3,269.7 665.0,269.2 665.7,270.3 666.4,270.6 667.1,270.6 667.8,270.1 668.5,271.2 669.2,271.1 669.9,271.6 670.6,271.8 671.3,272.0 672.0,271.6 672.7,272.2 673.4,272.3 674.1,272.3 674.8,271.9 675.5,271.4 676.2,271.3 676.9,271.2 677.6,271.9 678.3,271.9 679.0,271.9 679.7,271.9 680.4,272.2 681.1,272.1 681.8,271.9 682.5,272.6 683.2,272.3 683.9,272.9 684.6,272.6 685.3,273.6 686.0,273.6 686.7,273.5 687.4,274.5 688.1,273.5 688.8,273.6 689.5,272.8 690.2,271.2 690.9,271.1 691.6,270.2 692.3,269.8 693.0,268.7 693.7,268.1 694.4,268.9 695.1,268.2 695.8,269.1 696.5,268.7 697.2,269.0 697.9,269.1 698.6,270.3 699.3,270.2 700.0,270.7 700.7,270.4 701.4,271.0 702.1,271.1 702.8,270.5 703.5,271.0 704.2,271.5 704.9,271.0 705.6,271.6 706.3,271.3 707.0,271.5 707.7,272.3 708.4,272.6 709.1,272.8 709.8,272.2 710.5,272.5 711.2,273.0 711.9,273.3 712.6,273.1 713.3,273.8 714.0,273.5 714.7,274.4 715.4,274.1 716.1,273.8 716.8,274.7 717.5,274.3 718.2,274.9 718.9,274.0 719.6,275.0 720.3,274.5 721.0,274.5 721.7,273.6 722.4,274.0 723.1,273.6 723.8,273.6 724.5,274.5 725.2,273.8 725.9,274.4 726.6,274.2 727.3,275.4 728.0,275.8 728.7,275.0 729.4,275.5 730.1,275.8 730.8,276.4 731.5,276.7 732.2,276.4 732.9,277.3 733.6,276.6 734.3,276.2 735.0,276.9 735.7,276.0 736.4,275.8 737.1,276.0 737.8,275.7 738.5,275.3" fill="none" stroke="#2272b6" stroke-width="1.25" stroke-linejoin="round" />
</g>
<rect x="574.0" y="207.5" width="164.5" height="87.0" fill="none" stroke="#a0a0a0" stroke-width="1.3"/>
<line x1="572.0" y1="207.5" x2="574.0" y2="207.5" stroke="#858585" stroke-width="1"/>
<text x="570.9" y="210.3" font-size="8.0" text-anchor="end" font-weight="normal" fill="#111" >39</text>
<line x1="572.0" y1="218.4" x2="574.0" y2="218.4" stroke="#858585" stroke-width="1"/>
<text x="570.9" y="221.2" font-size="8.0" text-anchor="end" font-weight="normal" fill="#111" >36</text>
<line x1="572.0" y1="229.2" x2="574.0" y2="229.2" stroke="#858585" stroke-width="1"/>
<text x="570.9" y="232.1" font-size="8.0" text-anchor="end" font-weight="normal" fill="#111" >33</text>
<line x1="572.0" y1="240.1" x2="574.0" y2="240.1" stroke="#858585" stroke-width="1"/>
<text x="570.9" y="243.0" font-size="8.0" text-anchor="end" font-weight="normal" fill="#111" >30</text>
<line x1="572.0" y1="251.0" x2="574.0" y2="251.0" stroke="#858585" stroke-width="1"/>
<text x="570.9" y="253.8" font-size="8.0" text-anchor="end" font-weight="normal" fill="#111" >27</text>
<line x1="572.0" y1="261.9" x2="574.0" y2="261.9" stroke="#858585" stroke-width="1"/>
<text x="570.9" y="264.7" font-size="8.0" text-anchor="end" font-weight="normal" fill="#111" >24</text>
<line x1="572.0" y1="272.8" x2="574.0" y2="272.8" stroke="#858585" stroke-width="1"/>
<text x="570.9" y="275.6" font-size="8.0" text-anchor="end" font-weight="normal" fill="#111" >21</text>
<line x1="572.0" y1="283.6" x2="574.0" y2="283.6" stroke="#858585" stroke-width="1"/>
<text x="570.9" y="286.5" font-size="8.0" text-anchor="end" font-weight="normal" fill="#111" >18</text>
<line x1="572.0" y1="294.5" x2="574.0" y2="294.5" stroke="#858585" stroke-width="1"/>
<text x="570.9" y="297.4" font-size="8.0" text-anchor="end" font-weight="normal" fill="#111" >15</text>
<line x1="572.8" y1="212.9" x2="574.0" y2="212.9" stroke="#858585" stroke-width="0.8"/>
<line x1="572.8" y1="223.8" x2="574.0" y2="223.8" stroke="#858585" stroke-width="0.8"/>
<line x1="572.8" y1="234.7" x2="574.0" y2="234.7" stroke="#858585" stroke-width="0.8"/>
<line x1="572.8" y1="245.6" x2="574.0" y2="245.6" stroke="#858585" stroke-width="0.8"/>
<line x1="572.8" y1="256.4" x2="574.0" y2="256.4" stroke="#858585" stroke-width="0.8"/>
<line x1="572.8" y1="267.3" x2="574.0" y2="267.3" stroke="#858585" stroke-width="0.8"/>
<line x1="572.8" y1="278.2" x2="574.0" y2="278.2" stroke="#858585" stroke-width="0.8"/>
<line x1="572.8" y1="289.1" x2="574.0" y2="289.1" stroke="#858585" stroke-width="0.8"/>
<line x1="576.0" y1="293.0" x2="576.0" y2="294.5" stroke="#858585" stroke-width="0.9"/>
<line x1="596.3" y1="293.5" x2="596.3" y2="294.5" stroke="#858585" stroke-width="0.8"/>
<line x1="616.6" y1="293.0" x2="616.6" y2="294.5" stroke="#858585" stroke-width="0.9"/>
<line x1="636.9" y1="293.5" x2="636.9" y2="294.5" stroke="#858585" stroke-width="0.8"/>
<line x1="657.2" y1="293.0" x2="657.2" y2="294.5" stroke="#858585" stroke-width="0.9"/>
<line x1="677.5" y1="293.5" x2="677.5" y2="294.5" stroke="#858585" stroke-width="0.8"/>
<line x1="697.8" y1="293.0" x2="697.8" y2="294.5" stroke="#858585" stroke-width="0.9"/>
<line x1="718.1" y1="293.5" x2="718.1" y2="294.5" stroke="#858585" stroke-width="0.8"/>
<line x1="738.4" y1="293.0" x2="738.4" y2="294.5" stroke="#858585" stroke-width="0.9"/>
<text x="544.5" y="205.8" font-size="11.5" text-anchor="start" font-weight="bold" fill="#111" >f</text>
<text x="577.5" y="202.5" font-size="9.4" text-anchor="start" font-weight="normal" fill="#222" >ΔT ≈ 7.8 °C</text>
<text transform="translate(556.2,247.7) rotate(-90)" font-size="10.2" text-anchor="middle" fill="#111">Temperature (<tspan font-size="6.4" dy="-3.9">o</tspan><tspan dy="3.9">C)</tspan></text>
<line x1="638" y1="213.7" x2="656" y2="213.7" stroke="#ff7f16" stroke-width="1.4"/>
<text x="658.3" y="216.3" font-size="7.6" text-anchor="start" font-weight="normal" fill="#222" >Ambient temperature</text>
<line x1="638" y1="223.2" x2="656" y2="223.2" stroke="#1f6fb4" stroke-width="1.4"/>
<text x="658.3" y="225.8" font-size="7.6" text-anchor="start" font-weight="normal" fill="#222" >PMMA <tspan font-size="5.8" dy="1.7">HPA</tspan><tspan dy="-1.7"> temperature</tspan></text>
<g clip-path="url(#cp02)"><path d="M143.0,336.7 L143.7,336.2 L144.4,336.3 L145.1,335.6 L145.8,336.1 L146.5,335.3 L147.2,335.7 L147.9,335.4 L148.6,335.6 L149.3,335.3 L150.0,334.9 L150.7,334.6 L151.4,335.0 L152.1,334.7 L152.8,334.4 L153.5,335.3 L154.2,335.5 L154.9,335.5 L155.6,335.6 L156.3,335.2 L157.0,335.4 L157.7,336.0 L158.4,336.5 L159.1,336.7 L159.8,336.1 L160.5,336.7 L161.2,336.9 L161.9,336.9 L162.6,336.9 L163.3,337.0 L164.0,337.6 L164.7,337.8 L165.4,337.7 L166.1,337.9 L166.8,338.2 L167.5,338.6 L168.2,338.5 L168.9,338.1 L169.6,339.0 L170.3,338.6 L171.0,339.3 L171.7,339.6 L172.4,338.8 L173.1,339.2 L173.8,339.7 L174.5,339.3 L175.2,339.4 L175.9,339.3 L176.6,339.0 L177.3,339.2 L178.0,339.2 L178.7,339.4 L179.4,339.9 L180.1,340.0 L180.8,340.5 L181.5,340.4 L182.2,340.1 L182.9,340.7 L183.6,340.6 L184.3,340.5 L185.0,340.9 L185.7,340.9 L186.4,340.6 L187.1,341.1 L187.8,341.0 L188.5,341.9 L189.2,341.4 L189.9,342.3 L190.6,341.6 L191.3,341.6 L192.0,342.3 L192.7,342.3 L193.4,342.8 L194.1,342.6 L194.8,343.5 L195.5,343.5 L196.2,343.6 L196.9,343.9 L197.6,344.0 L198.3,343.8 L199.0,343.8 L199.7,343.0 L200.4,343.0 L201.1,343.4 L201.8,344.1 L202.5,343.6 L203.2,343.8 L203.9,343.3 L204.6,343.6 L205.3,344.3 L206.0,344.2 L206.7,344.5 L207.4,343.8 L208.1,344.0 L208.8,344.1 L209.5,344.9 L210.2,344.4 L210.9,345.3 L211.6,344.9 L212.3,345.6 L213.0,345.4 L213.7,345.3 L214.4,346.1 L215.1,345.8 L215.8,346.2 L216.5,345.8 L217.2,346.7 L217.9,347.2 L218.6,346.5 L219.3,347.2 L220.0,347.0 L220.7,346.9 L221.4,347.3 L222.1,347.9 L222.8,348.5 L223.5,348.8 L224.2,349.1 L224.9,348.8 L225.6,349.0 L226.3,348.6 L227.0,349.3 L227.7,349.5 L228.4,349.5 L229.1,350.3 L229.8,350.0 L230.5,350.0 L231.2,350.2 L231.9,350.5 L232.6,351.2 L233.3,351.8 L234.0,351.4 L234.7,351.9 L235.4,352.3 L236.1,352.6 L236.8,352.7 L237.5,353.1 L238.2,352.9 L238.9,353.1 L239.6,353.8 L240.3,354.0 L241.0,354.8 L241.7,354.7 L242.4,355.5 L243.1,355.3 L243.8,355.3 L244.5,356.0 L245.2,356.1 L245.9,355.9 L246.6,356.2 L247.3,355.5 L248.0,355.7 L248.7,355.8 L249.4,355.3 L250.1,355.4 L250.8,356.0 L251.5,355.9 L252.2,355.5 L252.9,355.5 L253.6,355.6 L254.3,356.0 L255.0,355.9 L255.7,356.7 L256.4,356.7 L257.1,356.7 L257.8,357.0 L258.5,357.7 L259.2,357.2 L259.9,357.1 L260.6,357.4 L261.3,357.6 L262.0,358.4 L262.7,358.5 L263.4,358.5 L264.1,358.5 L264.8,358.7 L265.5,359.1 L266.2,360.2 L266.9,360.5 L267.6,360.3 L268.3,361.1 L269.0,360.9 L269.7,361.6 L270.4,361.8 L271.1,361.9 L271.8,362.8 L272.5,363.0 L273.2,363.0 L273.9,362.7 L274.6,363.3 L275.3,363.3 L276.0,363.6 L276.7,363.2 L277.4,364.1 L278.1,363.4 L278.8,363.6 L279.5,364.0 L280.2,363.9 L280.9,363.9 L281.6,364.7 L282.3,365.3 L283.0,364.9 L283.7,364.9 L284.4,365.5 L285.1,365.3 L285.8,365.7 L286.5,366.3 L287.2,366.3 L287.9,366.1 L288.6,366.2 L289.3,366.9 L290.0,367.8 L290.7,368.1 L291.4,367.5 L292.1,368.0 L292.8,368.3 L293.5,368.2 L294.2,369.0 L294.9,369.1 L295.6,369.7 L296.3,369.5 L297.0,370.4 L297.7,370.6 L298.4,370.5 L299.1,370.4 L299.8,371.0 L300.5,370.9 L301.2,371.8 L301.9,372.2 L302.6,372.4 L303.3,373.1 L304.0,372.5 L304.7,373.3 L305.4,373.7 L306.1,372.8 L306.8,372.7 L307.5,372.3 L308.2,372.6 L309.5,372.7 L309.5,413.5 L143.0,413.5 Z" fill="#fee4c8" stroke="none"/>
<polyline points="143.0,336.7 143.7,336.2 144.4,336.3 145.1,335.6 145.8,336.1 146.5,335.3 147.2,335.7 147.9,335.4 148.6,335.6 149.3,335.3 150.0,334.9 150.7,334.6 151.4,335.0 152.1,334.7 152.8,334.4 153.5,335.3 154.2,335.5 154.9,335.5 155.6,335.6 156.3,335.2 157.0,335.4 157.7,336.0 158.4,336.5 159.1,336.7 159.8,336.1 160.5,336.7 161.2,336.9 161.9,336.9 162.6,336.9 163.3,337.0 164.0,337.6 164.7,337.8 165.4,337.7 166.1,337.9 166.8,338.2 167.5,338.6 168.2,338.5 168.9,338.1 169.6,339.0 170.3,338.6 171.0,339.3 171.7,339.6 172.4,338.8 173.1,339.2 173.8,339.7 174.5,339.3 175.2,339.4 175.9,339.3 176.6,339.0 177.3,339.2 178.0,339.2 178.7,339.4 179.4,339.9 180.1,340.0 180.8,340.5 181.5,340.4 182.2,340.1 182.9,340.7 183.6,340.6 184.3,340.5 185.0,340.9 185.7,340.9 186.4,340.6 187.1,341.1 187.8,341.0 188.5,341.9 189.2,341.4 189.9,342.3 190.6,341.6 191.3,341.6 192.0,342.3 192.7,342.3 193.4,342.8 194.1,342.6 194.8,343.5 195.5,343.5 196.2,343.6 196.9,343.9 197.6,344.0 198.3,343.8 199.0,343.8 199.7,343.0 200.4,343.0 201.1,343.4 201.8,344.1 202.5,343.6 203.2,343.8 203.9,343.3 204.6,343.6 205.3,344.3 206.0,344.2 206.7,344.5 207.4,343.8 208.1,344.0 208.8,344.1 209.5,344.9 210.2,344.4 210.9,345.3 211.6,344.9 212.3,345.6 213.0,345.4 213.7,345.3 214.4,346.1 215.1,345.8 215.8,346.2 216.5,345.8 217.2,346.7 217.9,347.2 218.6,346.5 219.3,347.2 220.0,347.0 220.7,346.9 221.4,347.3 222.1,347.9 222.8,348.5 223.5,348.8 224.2,349.1 224.9,348.8 225.6,349.0 226.3,348.6 227.0,349.3 227.7,349.5 228.4,349.5 229.1,350.3 229.8,350.0 230.5,350.0 231.2,350.2 231.9,350.5 232.6,351.2 233.3,351.8 234.0,351.4 234.7,351.9 235.4,352.3 236.1,352.6 236.8,352.7 237.5,353.1 238.2,352.9 238.9,353.1 239.6,353.8 240.3,354.0 241.0,354.8 241.7,354.7 242.4,355.5 243.1,355.3 243.8,355.3 244.5,356.0 245.2,356.1 245.9,355.9 246.6,356.2 247.3,355.5 248.0,355.7 248.7,355.8 249.4,355.3 250.1,355.4 250.8,356.0 251.5,355.9 252.2,355.5 252.9,355.5 253.6,355.6 254.3,356.0 255.0,355.9 255.7,356.7 256.4,356.7 257.1,356.7 257.8,357.0 258.5,357.7 259.2,357.2 259.9,357.1 260.6,357.4 261.3,357.6 262.0,358.4 262.7,358.5 263.4,358.5 264.1,358.5 264.8,358.7 265.5,359.1 266.2,360.2 266.9,360.5 267.6,360.3 268.3,361.1 269.0,360.9 269.7,361.6 270.4,361.8 271.1,361.9 271.8,362.8 272.5,363.0 273.2,363.0 273.9,362.7 274.6,363.3 275.3,363.3 276.0,363.6 276.7,363.2 277.4,364.1 278.1,363.4 278.8,363.6 279.5,364.0 280.2,363.9 280.9,363.9 281.6,364.7 282.3,365.3 283.0,364.9 283.7,364.9 284.4,365.5 285.1,365.3 285.8,365.7 286.5,366.3 287.2,366.3 287.9,366.1 288.6,366.2 289.3,366.9 290.0,367.8 290.7,368.1 291.4,367.5 292.1,368.0 292.8,368.3 293.5,368.2 294.2,369.0 294.9,369.1 295.6,369.7 296.3,369.5 297.0,370.4 297.7,370.6 298.4,370.5 299.1,370.4 299.8,371.0 300.5,370.9 301.2,371.8 301.9,372.2 302.6,372.4 303.3,373.1 304.0,372.5 304.7,373.3 305.4,373.7 306.1,372.8 306.8,372.7 307.5,372.3 308.2,372.6 309.5,372.7" fill="none" stroke="#f7ab55" stroke-width="1.25" stroke-linejoin="round" />
</g>
<rect x="143.0" y="326.5" width="166.5" height="87.0" fill="none" stroke="#a0a0a0" stroke-width="1.3"/>
<line x1="141.0" y1="326.5" x2="143.0" y2="326.5" stroke="#858585" stroke-width="1"/>
<text x="140.4" y="329.4" font-size="8.0" text-anchor="end" font-weight="normal" fill="#111" >1000</text>
<line x1="141.0" y1="337.4" x2="143.0" y2="337.4" stroke="#858585" stroke-width="1"/>
<text x="140.4" y="340.2" font-size="8.0" text-anchor="end" font-weight="normal" fill="#111" >950</text>
<line x1="141.0" y1="348.2" x2="143.0" y2="348.2" stroke="#858585" stroke-width="1"/>
<text x="140.4" y="351.1" font-size="8.0" text-anchor="end" font-weight="normal" fill="#111" >900</text>
<line x1="141.0" y1="359.1" x2="143.0" y2="359.1" stroke="#858585" stroke-width="1"/>
<text x="140.4" y="362.0" font-size="8.0" text-anchor="end" font-weight="normal" fill="#111" >850</text>
<line x1="141.0" y1="370.0" x2="143.0" y2="370.0" stroke="#858585" stroke-width="1"/>
<text x="140.4" y="372.9" font-size="8.0" text-anchor="end" font-weight="normal" fill="#111" >800</text>
<line x1="141.0" y1="380.9" x2="143.0" y2="380.9" stroke="#858585" stroke-width="1"/>
<text x="140.4" y="383.7" font-size="8.0" text-anchor="end" font-weight="normal" fill="#111" >750</text>
<line x1="141.0" y1="391.8" x2="143.0" y2="391.8" stroke="#858585" stroke-width="1"/>
<text x="140.4" y="394.6" font-size="8.0" text-anchor="end" font-weight="normal" fill="#111" >700</text>
<line x1="141.0" y1="402.6" x2="143.0" y2="402.6" stroke="#858585" stroke-width="1"/>
<text x="140.4" y="405.5" font-size="8.0" text-anchor="end" font-weight="normal" fill="#111" >650</text>
<line x1="141.0" y1="413.5" x2="143.0" y2="413.5" stroke="#858585" stroke-width="1"/>
<text x="140.4" y="416.4" font-size="8.0" text-anchor="end" font-weight="normal" fill="#111" >600</text>
<line x1="141.8" y1="331.9" x2="143.0" y2="331.9" stroke="#858585" stroke-width="0.8"/>
<line x1="141.8" y1="342.8" x2="143.0" y2="342.8" stroke="#858585" stroke-width="0.8"/>
<line x1="141.8" y1="353.7" x2="143.0" y2="353.7" stroke="#858585" stroke-width="0.8"/>
<line x1="141.8" y1="364.6" x2="143.0" y2="364.6" stroke="#858585" stroke-width="0.8"/>
<line x1="141.8" y1="375.4" x2="143.0" y2="375.4" stroke="#858585" stroke-width="0.8"/>
<line x1="141.8" y1="386.3" x2="143.0" y2="386.3" stroke="#858585" stroke-width="0.8"/>
<line x1="141.8" y1="397.2" x2="143.0" y2="397.2" stroke="#858585" stroke-width="0.8"/>
<line x1="141.8" y1="408.1" x2="143.0" y2="408.1" stroke="#858585" stroke-width="0.8"/>
<line x1="145.0" y1="412.0" x2="145.0" y2="413.5" stroke="#858585" stroke-width="0.9"/>
<line x1="165.3" y1="412.5" x2="165.3" y2="413.5" stroke="#858585" stroke-width="0.8"/>
<line x1="185.6" y1="412.0" x2="185.6" y2="413.5" stroke="#858585" stroke-width="0.9"/>
<line x1="205.9" y1="412.5" x2="205.9" y2="413.5" stroke="#858585" stroke-width="0.8"/>
<line x1="226.2" y1="412.0" x2="226.2" y2="413.5" stroke="#858585" stroke-width="0.9"/>
<line x1="246.5" y1="412.5" x2="246.5" y2="413.5" stroke="#858585" stroke-width="0.8"/>
<line x1="266.8" y1="412.0" x2="266.8" y2="413.5" stroke="#858585" stroke-width="0.9"/>
<line x1="287.1" y1="412.5" x2="287.1" y2="413.5" stroke="#858585" stroke-width="0.8"/>
<line x1="307.4" y1="412.0" x2="307.4" y2="413.5" stroke="#858585" stroke-width="0.9"/>
<text x="102.5" y="322.5" font-size="11.5" text-anchor="start" font-weight="bold" fill="#111" >g</text>
<text x="142.0" y="321.5" font-size="12" text-anchor="start" font-weight="bold" fill="#111" >•Xiamen city</text>
<text x="309.5" y="320.8" font-size="8.8" text-anchor="end" font-weight="normal" fill="#222" >SI ≈ 890 W/m^2</text>
<text transform="translate(120.5,370.5) rotate(-90)" font-size="9.9" text-anchor="middle" fill="#111">Solar irradiance (W/m<tspan font-size="7.0" dy="-4.0">2</tspan><tspan dy="4.0">)</tspan></text>
<g clip-path="url(#cp12)">
<polyline points="347.0,410.7 347.5,375.2 347.9,394.1 348.4,374.0 348.8,411.0 349.3,385.2 349.7,403.8 350.2,371.5 350.6,412.4 351.1,387.5 351.5,409.5 352.0,386.6 352.4,413.5 352.9,385.4 353.3,398.3 353.8,380.7 354.2,412.6 354.7,382.7 355.1,406.8 355.6,387.3 356.0,410.7 356.5,388.5 356.9,411.2 357.4,372.9 357.8,406.4 358.3,351.1 358.7,413.0 359.2,386.0 359.6,412.1 360.1,383.6 360.5,411.8 361.0,358.2 361.4,411.5 361.9,389.7 362.3,411.0 362.8,375.6 363.2,411.6 363.7,383.9 364.1,410.9 364.6,399.2 365.0,413.4 365.5,382.7 365.9,412.4 366.4,389.4 366.8,401.1 367.3,388.0 367.7,401.9 368.2,365.3 368.6,411.5 369.1,391.3 369.5,409.1 370.0,394.7 370.4,413.3 370.9,386.9 371.3,411.0 371.8,392.3 372.2,406.3 372.7,390.8 373.1,413.5 373.6,393.1 374.0,413.5 374.5,392.3 374.9,365.6 375.4,404.5 375.8,412.1 376.3,395.8 376.7,413.5 377.2,391.0 377.6,412.2 378.1,382.9 378.5,412.1 379.0,392.7 379.4,408.1 379.9,397.5 380.3,410.7 380.8,390.9 381.2,411.7 381.7,408.8 382.1,413.5 382.6,385.9 383.0,413.5 383.5,349.7 383.9,411.5 384.4,386.2 384.8,413.5 385.3,382.7 385.7,402.8 386.2,392.3 386.6,413.5 387.1,394.1 387.5,403.8 388.0,387.7 388.4,404.5 388.9,386.6 389.3,411.8 389.8,397.0 390.2,409.1 390.7,389.3 391.1,412.2 391.6,390.4 392.0,412.3 392.5,386.2 392.9,411.8 393.4,394.3 393.8,410.8 394.3,369.9 394.7,411.4 395.2,367.1 395.6,406.2 396.1,391.1 396.5,405.3 397.0,395.0 397.4,412.6 397.9,401.5 398.3,412.5 398.8,393.9 399.2,390.6 399.7,382.7 400.1,410.8 400.6,396.2 401.0,395.5 401.5,375.9 401.9,411.9 402.4,368.1 402.8,390.4 403.3,376.9 403.7,411.6 404.2,383.8 404.6,413.1 405.1,389.5 405.5,411.4 406.0,396.7 406.4,412.0 406.9,387.7 407.3,413.5 407.8,393.1 408.2,409.0 408.7,387.7 409.1,349.7 409.6,385.0 410.0,413.5 410.5,398.1 410.9,411.8 411.4,375.8 411.8,413.1 412.3,382.3 412.7,413.5 413.2,411.7 413.6,411.3 414.1,408.1 414.5,411.5 415.0,388.5 415.4,411.8 415.9,401.5 416.3,413.2 416.8,397.9 417.2,410.7 417.7,390.7 418.1,410.6 418.6,386.5 419.0,411.7 419.5,397.1 419.9,407.2 420.4,388.8 420.8,413.5 421.3,391.7 421.7,404.7 422.2,389.5 422.6,403.5 423.1,379.0 423.5,411.2 424.0,371.3 424.4,408.2 424.9,381.3 425.3,411.4 425.8,393.3 426.2,351.1 426.7,381.2 427.1,392.5 427.6,386.5 428.0,413.5 428.5,400.2 428.9,411.0 429.4,397.7 429.8,411.9 430.3,384.5 430.7,408.8 431.2,381.3 431.6,413.2 432.1,387.3 432.5,408.0 433.0,378.3 433.4,401.3 433.9,389.9 434.3,410.7 434.8,385.0 435.2,413.3 435.7,365.3 436.1,394.3 436.6,370.3 437.0,401.9 437.5,383.8 437.9,413.3 438.4,385.2 438.8,394.3 439.3,377.8 439.7,412.1 440.2,382.6 440.6,387.8 441.1,367.4 441.5,410.8 442.0,375.9 442.4,395.3 442.9,378.5 443.3,399.6 443.8,352.2 444.2,404.1 444.7,368.8 445.1,386.0 445.6,380.7 446.0,412.8 446.5,374.2 446.9,413.5 447.4,379.3 447.8,411.9 448.3,383.8 448.7,411.1 449.2,391.9 449.6,412.6 450.1,390.8 450.5,395.9 451.0,377.1 451.4,388.5 451.9,377.8 452.3,403.6 452.8,378.0 453.2,407.6 453.7,379.2 454.1,400.5 454.6,386.8 455.0,413.2 455.5,388.1 455.9,410.9 456.4,363.1 456.8,395.8 457.3,383.5 457.7,408.8 458.2,392.6 458.6,412.7 459.1,383.5 459.5,413.5 460.0,388.1 460.4,412.7 460.9,364.2 461.3,413.0 461.8,389.5 462.2,399.2 462.7,382.2 463.1,398.7 463.6,379.3 464.0,395.5 464.5,371.3 464.9,389.5 465.4,377.2 465.8,411.2 466.3,349.7 466.7,407.5 467.2,383.1 467.6,408.9 468.1,397.4 468.5,403.8 469.0,388.6 469.4,409.7 469.9,388.6 470.3,355.5 470.8,397.0 471.2,413.3 471.7,384.7 472.1,411.9 472.6,373.8 473.0,407.9 473.5,396.9 473.9,413.5 474.4,398.5 474.8,407.4 475.3,390.8 475.7,412.8 476.2,364.4 476.6,411.5 477.1,380.6 477.5,406.8 478.0,382.0 478.4,411.3 478.9,388.8 479.3,411.3 479.8,388.3 480.2,413.5 480.7,393.2 481.1,413.5 481.6,397.8 482.0,413.5 482.5,402.1 482.9,412.0 483.4,393.0 483.8,413.5 484.3,393.3 484.7,412.3 485.2,372.7 485.6,413.2 486.1,392.5 486.5,412.0 487.0,388.0 487.4,406.2 487.9,381.5 488.3,403.8 488.8,393.3 489.2,408.1 489.7,380.7 490.1,405.9 490.6,349.7 491.0,410.8 491.5,401.7 491.9,413.0 492.4,392.2 492.8,402.9 493.3,384.3 493.7,413.5 494.2,384.8 494.6,411.5 495.1,386.0 495.5,399.7 496.0,374.7 496.4,405.7 496.9,390.3 497.3,387.9 497.8,364.2 498.2,398.6 498.7,351.4 499.1,413.5 499.6,401.0 500.0,395.6 500.5,360.6 500.9,398.3 501.4,368.2 501.8,404.1 502.3,394.4 502.7,408.8 503.2,393.3 503.6,412.5 504.1,385.3 504.5,413.5 505.0,387.5 505.4,406.1 505.9,384.8 506.3,413.5 506.8,395.1 507.2,411.9 507.7,383.3 508.1,407.8 508.6,379.0 509.0,409.5 509.5,393.0 509.9,411.4 510.4,388.6 510.8,401.9 511.3,389.7 511.7,410.4 512.2,398.1" fill="none" stroke="#78c8f7" stroke-width="1.0" stroke-linejoin="round" />
<polyline points="347.0,356.0 347.7,355.4 348.4,353.1 349.1,351.2 349.8,349.2 350.5,348.7 351.2,347.4 351.9,348.2 352.6,347.9 353.3,349.8 354.0,351.8 354.7,352.5 355.4,353.0 356.1,353.3 356.8,353.8 357.5,354.5 358.2,352.8 358.9,353.5 359.6,352.9 360.3,351.9 361.0,352.0 361.7,351.7 362.4,351.0 363.1,350.9 363.8,352.8 364.5,353.8 365.2,352.6 365.9,352.8 366.6,351.5 367.3,349.1 368.0,347.9 368.7,347.6 369.4,349.0 370.1,349.5 370.8,350.5 371.5,352.2 372.2,350.0 372.9,349.4 373.6,347.4 374.3,347.2 375.0,346.0 375.7,343.8 376.4,344.5 377.1,343.8 377.8,344.5 378.5,345.3 379.2,345.7 379.9,346.2 380.6,346.8 381.3,348.2 382.0,349.7 382.7,347.7 383.4,346.4 384.1,345.6 384.8,347.8 385.5,348.5 386.2,349.2 386.9,351.2 387.6,352.1 388.3,353.4 389.0,351.3 389.7,350.3 390.4,349.6 391.1,351.5 391.8,351.1 392.5,351.7 393.2,352.4 393.9,353.4 394.6,354.5 395.3,354.9 396.0,354.3 396.7,352.3 397.4,350.9 398.1,352.4 398.8,354.8 399.5,356.9 400.2,357.7 400.9,360.2 401.6,360.0 402.3,361.2 403.0,360.5 403.7,360.7 404.4,360.1 405.1,360.8 405.8,361.6 406.5,364.3 407.2,364.7 407.9,366.4 408.6,367.2 409.3,367.8 410.0,364.2 410.7,361.1 411.4,361.8 412.1,362.9 412.8,363.1 413.5,362.3 414.2,363.6 414.9,362.9 415.6,361.7 416.3,361.6 417.0,361.2 417.7,363.5 418.4,364.3 419.1,364.9 419.8,365.7 420.5,366.8 421.2,367.9 421.9,369.1 422.6,370.8 423.3,369.6 424.0,368.1 424.7,367.0 425.4,365.2 426.1,363.6 426.8,363.3 427.5,363.6 428.2,363.9 428.9,364.5 429.6,365.3 430.3,365.0 431.0,364.7 431.7,364.3 432.4,365.8 433.1,365.7 433.8,364.9 434.5,364.4 435.2,367.3 435.9,367.2 436.6,369.2 437.3,369.0 438.0,369.5 438.7,368.5 439.4,368.9 440.1,367.3 440.8,366.1 441.5,365.6 442.2,366.5 442.9,367.7 443.6,367.7 444.3,368.2 445.0,367.9 445.7,368.3 446.4,368.5 447.1,370.7 447.8,369.4 448.5,370.6 449.2,370.5 449.9,370.3 450.6,371.0 451.3,372.4 452.0,371.5 452.7,371.4 453.4,372.5 454.1,373.1 454.8,372.8 455.5,371.6 456.2,372.4 456.9,370.5 457.6,369.8 458.3,369.4 459.0,369.5 459.7,369.0 460.4,368.7 461.1,368.6 461.8,368.5 462.5,367.3 463.2,365.7 463.9,366.7 464.6,364.8 465.3,365.5 466.0,365.8 466.7,367.3 467.4,368.4 468.1,367.8 468.8,368.5 469.5,370.1 470.2,370.4 470.9,369.6 471.6,370.9 472.3,371.8 473.0,371.5 473.7,370.9 474.4,371.4 475.1,370.4 475.8,369.4 476.5,368.9 477.2,369.0 477.9,368.0 478.6,368.4 479.3,368.9 480.0,369.1 480.7,369.0 481.4,369.9 482.1,368.7 482.8,369.0 483.5,370.4 484.2,370.7 484.9,370.3 485.6,369.2 486.3,367.9 487.0,367.5 487.7,366.3 488.4,364.5 489.1,363.8 489.8,362.6 490.5,364.8 491.2,364.8 491.9,365.7 492.6,366.8 493.3,366.8 494.0,368.6 494.7,369.3 495.4,369.8 496.1,370.3 496.8,369.5 497.5,369.3 498.2,370.8 498.9,370.6 499.6,369.1 500.3,368.1 501.0,366.9 501.7,367.4 502.4,366.1 503.1,365.9 503.8,365.2 504.5,365.4 505.2,366.1 505.9,367.0 506.6,367.7 507.3,367.1 508.0,368.0 508.7,368.2 509.4,369.8 510.1,370.4 510.8,370.7 511.5,370.9 512.2,371.4" fill="none" stroke="#153f68" stroke-width="1.25" stroke-linejoin="round" />
</g>
<rect x="347.0" y="326.5" width="165.5" height="87.0" fill="none" stroke="#a0a0a0" stroke-width="1.3"/>
<line x1="345.0" y1="326.5" x2="347.0" y2="326.5" stroke="#858585" stroke-width="1"/>
<text x="344.4" y="329.4" font-size="8.0" text-anchor="end" font-weight="normal" fill="#111" >3.0</text>
<line x1="345.0" y1="341.0" x2="347.0" y2="341.0" stroke="#858585" stroke-width="1"/>
<text x="344.4" y="343.9" font-size="8.0" text-anchor="end" font-weight="normal" fill="#111" >2.5</text>
<line x1="345.0" y1="355.5" x2="347.0" y2="355.5" stroke="#858585" stroke-width="1"/>
<text x="344.4" y="358.4" font-size="8.0" text-anchor="end" font-weight="normal" fill="#111" >2.0</text>
<line x1="345.0" y1="370.0" x2="347.0" y2="370.0" stroke="#858585" stroke-width="1"/>
<text x="344.4" y="372.9" font-size="8.0" text-anchor="end" font-weight="normal" fill="#111" >1.5</text>
<line x1="345.0" y1="384.5" x2="347.0" y2="384.5" stroke="#858585" stroke-width="1"/>
<text x="344.4" y="387.4" font-size="8.0" text-anchor="end" font-weight="normal" fill="#111" >1.0</text>
<line x1="345.0" y1="399.0" x2="347.0" y2="399.0" stroke="#858585" stroke-width="1"/>
<text x="344.4" y="401.9" font-size="8.0" text-anchor="end" font-weight="normal" fill="#111" >0.5</text>
<line x1="345.0" y1="413.5" x2="347.0" y2="413.5" stroke="#858585" stroke-width="1"/>
<text x="344.4" y="416.4" font-size="8.0" text-anchor="end" font-weight="normal" fill="#111" >0.0</text>
<line x1="345.8" y1="333.8" x2="347.0" y2="333.8" stroke="#858585" stroke-width="0.8"/>
<line x1="345.8" y1="348.2" x2="347.0" y2="348.2" stroke="#858585" stroke-width="0.8"/>
<line x1="345.8" y1="362.8" x2="347.0" y2="362.8" stroke="#858585" stroke-width="0.8"/>
<line x1="345.8" y1="377.2" x2="347.0" y2="377.2" stroke="#858585" stroke-width="0.8"/>
<line x1="345.8" y1="391.8" x2="347.0" y2="391.8" stroke="#858585" stroke-width="0.8"/>
<line x1="345.8" y1="406.2" x2="347.0" y2="406.2" stroke="#858585" stroke-width="0.8"/>
<line x1="512.5" y1="326.5" x2="514.5" y2="326.5" stroke="#858585" stroke-width="1"/>
<text x="515.0" y="329.4" font-size="8.0" text-anchor="start" font-weight="normal" fill="#111" >70</text>
<line x1="512.5" y1="337.4" x2="514.5" y2="337.4" stroke="#858585" stroke-width="1"/>
<text x="515.0" y="340.2" font-size="8.0" text-anchor="start" font-weight="normal" fill="#111" >65</text>
<line x1="512.5" y1="348.2" x2="514.5" y2="348.2" stroke="#858585" stroke-width="1"/>
<text x="515.0" y="351.1" font-size="8.0" text-anchor="start" font-weight="normal" fill="#111" >60</text>
<line x1="512.5" y1="359.1" x2="514.5" y2="359.1" stroke="#858585" stroke-width="1"/>
<text x="515.0" y="362.0" font-size="8.0" text-anchor="start" font-weight="normal" fill="#111" >55</text>
<line x1="512.5" y1="370.0" x2="514.5" y2="370.0" stroke="#858585" stroke-width="1"/>
<text x="515.0" y="372.9" font-size="8.0" text-anchor="start" font-weight="normal" fill="#111" >50</text>
<line x1="512.5" y1="380.9" x2="514.5" y2="380.9" stroke="#858585" stroke-width="1"/>
<text x="515.0" y="383.7" font-size="8.0" text-anchor="start" font-weight="normal" fill="#111" >45</text>
<line x1="512.5" y1="391.8" x2="514.5" y2="391.8" stroke="#858585" stroke-width="1"/>
<text x="515.0" y="394.6" font-size="8.0" text-anchor="start" font-weight="normal" fill="#111" >40</text>
<line x1="512.5" y1="402.6" x2="514.5" y2="402.6" stroke="#858585" stroke-width="1"/>
<text x="515.0" y="405.5" font-size="8.0" text-anchor="start" font-weight="normal" fill="#111" >35</text>
<line x1="512.5" y1="413.5" x2="514.5" y2="413.5" stroke="#858585" stroke-width="1"/>
<text x="515.0" y="416.4" font-size="8.0" text-anchor="start" font-weight="normal" fill="#111" >30</text>
<line x1="512.5" y1="331.9" x2="513.7" y2="331.9" stroke="#858585" stroke-width="0.8"/>
<line x1="512.5" y1="342.8" x2="513.7" y2="342.8" stroke="#858585" stroke-width="0.8"/>
<line x1="512.5" y1="353.7" x2="513.7" y2="353.7" stroke="#858585" stroke-width="0.8"/>
<line x1="512.5" y1="364.6" x2="513.7" y2="364.6" stroke="#858585" stroke-width="0.8"/>
<line x1="512.5" y1="375.4" x2="513.7" y2="375.4" stroke="#858585" stroke-width="0.8"/>
<line x1="512.5" y1="386.3" x2="513.7" y2="386.3" stroke="#858585" stroke-width="0.8"/>
<line x1="512.5" y1="397.2" x2="513.7" y2="397.2" stroke="#858585" stroke-width="0.8"/>
<line x1="512.5" y1="408.1" x2="513.7" y2="408.1" stroke="#858585" stroke-width="0.8"/>
<line x1="349.0" y1="412.0" x2="349.0" y2="413.5" stroke="#858585" stroke-width="0.9"/>
<line x1="369.3" y1="412.5" x2="369.3" y2="413.5" stroke="#858585" stroke-width="0.8"/>
<line x1="389.6" y1="412.0" x2="389.6" y2="413.5" stroke="#858585" stroke-width="0.9"/>
<line x1="409.9" y1="412.5" x2="409.9" y2="413.5" stroke="#858585" stroke-width="0.8"/>
<line x1="430.2" y1="412.0" x2="430.2" y2="413.5" stroke="#858585" stroke-width="0.9"/>
<line x1="450.5" y1="412.5" x2="450.5" y2="413.5" stroke="#858585" stroke-width="0.8"/>
<line x1="470.8" y1="412.0" x2="470.8" y2="413.5" stroke="#858585" stroke-width="0.9"/>
<line x1="491.1" y1="412.5" x2="491.1" y2="413.5" stroke="#858585" stroke-width="0.8"/>
<line x1="511.4" y1="412.0" x2="511.4" y2="413.5" stroke="#858585" stroke-width="0.9"/>
<text x="316.5" y="322.5" font-size="11.5" text-anchor="start" font-weight="bold" fill="#111" >h</text>
<text x="344.5" y="320.6" font-size="8.7" text-anchor="start" font-weight="normal" fill="#222" >WS ≈ 0.6 m/s, RH ≈ 54%</text>
<text transform="translate(329.5,369.8) rotate(-90)" font-size="9.85" text-anchor="middle" fill="#111">Wind Speed (m/s)</text>
<text transform="translate(534.7,368.5) rotate(-90)" font-size="9.9" text-anchor="middle" fill="#111">Relative Humidity (%)</text>
<line x1="432" y1="332.8" x2="450" y2="332.8" stroke="#a6dcf8" stroke-width="2"/>
<text x="451.5" y="335.4" font-size="7.6" text-anchor="start" font-weight="normal" fill="#222" >Wind Speed</text>
<line x1="432" y1="342.2" x2="450" y2="342.2" stroke="#2e5f8a" stroke-width="1.3"/>
<text x="451.5" y="344.8" font-size="7.6" text-anchor="start" font-weight="normal" fill="#222" >Relative Humidity</text>
<g clip-path="url(#cp22)">
<polyline points="574.0,367.4 574.8,366.1 575.5,370.5 576.2,375.8 577.0,380.0 577.8,372.9 578.5,382.3 579.2,375.9 580.0,381.1 580.8,375.4 581.5,369.1 582.2,363.1 583.0,361.3 583.8,367.4 584.5,365.1 585.2,370.4 586.0,363.7 586.8,372.2 587.5,373.9 588.2,367.4 589.0,376.2 589.8,368.2 590.5,369.5 591.2,370.5 592.0,367.0 592.8,370.8 593.5,374.3 594.2,367.2 595.0,377.9 595.8,378.8 596.5,373.5 597.2,380.0 598.0,378.5 598.8,373.9 599.5,371.2 600.2,378.2 601.0,374.0 601.8,379.8 602.5,376.8 603.2,382.4 604.0,381.9 604.8,379.4 605.5,371.5 606.2,371.0 607.0,379.5 607.8,381.4 608.5,379.5 609.2,386.2 610.0,383.3 610.8,375.4 611.5,383.7 612.2,381.3 613.0,375.2 613.8,375.7 614.5,366.3 615.2,372.0 616.0,365.9 616.8,372.8 617.5,371.3 618.2,370.7 619.0,379.9 619.8,380.3 620.5,364.9 621.2,368.0 622.0,371.2 622.8,378.5 623.5,364.4 624.2,380.1 625.0,379.4 625.8,381.1 626.5,380.0 627.2,375.8 628.0,367.1 628.8,370.3 629.5,366.8 630.2,365.7 631.0,348.6 631.8,360.6 632.5,349.7 633.2,353.7 634.0,356.8 634.8,363.1 635.5,360.7 636.2,371.7 637.0,368.3 637.8,374.2 638.5,369.1 639.2,369.7 640.0,365.9 640.8,366.1 641.5,359.0 642.2,355.3 643.0,359.7 643.8,353.0 644.5,357.3 645.2,358.2 646.0,354.5 646.8,357.6 647.5,351.6 648.2,356.6 649.0,362.9 649.8,363.9 650.5,362.1 651.2,366.6 652.0,370.5 652.8,361.6 653.5,373.0 654.2,368.2 655.0,368.6 655.8,372.5 656.5,371.6 657.2,365.4 658.0,365.3 658.8,365.6 659.5,365.6 660.2,365.3 661.0,366.2 661.8,354.5 662.5,364.2 663.2,368.2 664.0,364.5 664.8,364.3 665.5,372.9 666.2,364.9 667.0,376.1 667.8,375.2 668.5,368.3 669.2,375.1 670.0,365.5 670.8,367.9 671.5,360.0 672.2,365.1 673.0,361.8 673.8,364.4 674.5,362.0 675.2,360.9 676.0,365.0 676.8,358.1 677.5,364.6 678.2,358.7 679.0,365.9 679.8,362.8 680.5,357.3 681.2,355.6 682.0,351.7 682.8,351.4 683.5,356.7 684.2,356.6 685.0,355.2 685.8,347.6 686.5,353.9 687.2,356.2 688.0,357.9 688.8,360.9 689.5,361.9 690.2,361.4 691.0,368.8 691.8,370.3 692.5,366.9 693.2,364.6 694.0,359.1 694.8,360.8 695.5,353.4 696.2,351.0 697.0,344.3 697.8,352.0 698.5,351.1 699.2,343.1 700.0,351.5 700.8,356.1 701.5,352.2 702.2,359.8 703.0,362.7 703.8,362.5 704.5,364.8 705.2,365.7 706.0,359.7 706.8,357.4 707.5,357.2 708.2,357.1 709.0,352.5 709.8,357.7 710.5,358.8 711.2,359.7 712.0,366.6 712.8,361.1 713.5,368.6 714.2,376.2 715.0,368.1 715.8,377.7 716.5,367.9 717.2,370.7 718.0,362.9 718.8,362.3 719.5,360.0 720.2,352.0 721.0,353.0 721.8,350.7 722.5,357.2 723.2,360.8 724.0,357.9 724.8,357.9 725.5,367.3 726.2,359.9 727.0,364.9 727.8,372.4 728.5,372.4 729.2,372.4 730.0,370.3 730.8,361.2 731.5,356.7 732.2,361.9 733.0,352.8 733.8,359.6 734.5,356.2 735.2,356.0 736.0,355.3 736.8,352.5 737.5,353.8 738.2,345.3" fill="none" stroke="#ff8420" stroke-width="1.3" stroke-linejoin="round" />
<polyline points="574.0,397.6 574.7,398.0 575.4,398.1 576.1,398.4 576.8,398.7 577.5,398.7 578.2,398.5 578.9,398.4 579.6,399.2 580.3,400.0 581.0,399.4 581.7,399.1 582.4,398.8 583.1,399.1 583.8,398.7 584.5,398.8 585.2,397.6 585.9,397.3 586.6,397.2 587.3,397.2 588.0,397.0 588.7,396.8 589.4,397.7 590.1,397.5 590.8,397.9 591.5,398.7 592.2,398.8 592.9,399.0 593.6,399.6 594.3,399.3 595.0,399.1 595.7,400.5 596.4,400.5 597.1,400.8 597.8,400.5 598.5,401.4 599.2,401.1 599.9,401.4 600.6,401.0 601.3,401.7 602.0,401.1 602.7,400.9 603.4,401.6 604.1,400.9 604.8,400.9 605.5,401.1 606.2,401.8 606.9,400.8 607.6,400.8 608.3,401.5 609.0,400.7 609.7,401.2 610.4,402.0 611.1,402.3 611.8,402.6 612.5,402.1 613.2,403.1 613.9,402.2 614.6,402.3 615.3,401.7 616.0,401.8 616.7,401.0 617.4,400.3 618.1,399.7 618.8,399.8 619.5,399.0 620.2,399.2 620.9,400.2 621.6,400.2 622.3,400.6 623.0,399.9 623.7,400.3 624.4,400.5 625.1,400.1 625.8,400.4 626.5,401.4 627.2,401.4 627.9,401.3 628.6,401.1 629.3,401.2 630.0,401.1 630.7,400.4 631.4,399.4 632.1,400.0 632.8,399.0 633.5,398.7 634.2,398.3 634.9,398.2 635.6,397.8 636.3,397.0 637.0,396.4 637.7,395.4 638.4,395.4 639.1,394.7 639.8,393.9 640.5,395.1 641.2,395.9 641.9,396.5 642.6,397.2 643.3,396.6 644.0,397.4 644.7,397.8 645.4,397.2 646.1,397.4 646.8,397.4 647.5,396.2 648.2,396.1 648.9,396.4 649.6,396.1 650.3,395.2 651.0,394.5 651.7,394.9 652.4,395.2 653.1,395.7 653.8,395.1 654.5,395.3 655.2,396.3 655.9,395.4 656.6,396.0 657.3,395.6 658.0,396.5 658.7,396.4 659.4,397.1 660.1,396.4 660.8,397.2 661.5,396.7 662.2,396.5 662.9,396.5 663.6,396.3 664.3,396.5 665.0,397.1 665.7,396.2 666.4,396.3 667.1,395.3 667.8,395.6 668.5,395.5 669.2,394.7 669.9,395.0 670.6,394.7 671.3,394.3 672.0,394.7 672.7,394.5 673.4,393.5 674.1,393.1 674.8,392.7 675.5,392.7 676.2,392.9 676.9,393.2 677.6,393.0 678.3,392.6 679.0,391.4 679.7,391.7 680.4,391.5 681.1,390.9 681.8,391.2 682.5,390.6 683.2,389.6 683.9,389.3 684.6,389.4 685.3,390.2 686.0,390.6 686.7,391.2 687.4,390.4 688.1,390.4 688.8,391.9 689.5,391.5 690.2,391.6 690.9,392.6 691.6,392.0 692.3,393.0 693.0,393.4 693.7,393.2 694.4,393.3 695.1,392.6 695.8,393.3 696.5,393.6 697.2,393.9 697.9,393.8 698.6,393.3 699.3,393.5 700.0,394.1 700.7,393.4 701.4,392.6 702.1,392.1 702.8,392.1 703.5,391.2 704.2,390.2 704.9,390.9 705.6,390.6 706.3,390.3 707.0,390.7 707.7,391.3 708.4,390.8 709.1,390.9 709.8,391.3 710.5,391.9 711.2,391.7 711.9,391.2 712.6,391.7 713.3,391.7 714.0,392.2 714.7,392.9 715.4,392.4 716.1,393.2 716.8,393.4 717.5,394.1 718.2,394.4 718.9,393.9 719.6,393.8 720.3,393.2 721.0,392.9 721.7,393.1 722.4,393.0 723.1,392.4 723.8,392.9 724.5,392.5 725.2,392.1 725.9,392.0 726.6,393.0 727.3,393.6 728.0,394.0 728.7,393.4 729.4,393.3 730.1,394.3 730.8,394.0 731.5,395.2 732.2,395.5 732.9,395.3 733.6,395.6 734.3,395.9 735.0,395.2 735.7,395.3 736.4,395.8 737.1,395.7 737.8,395.6 738.5,394.9" fill="none" stroke="#2272b6" stroke-width="1.25" stroke-linejoin="round" />
</g>
<rect x="574.0" y="326.5" width="164.5" height="87.0" fill="none" stroke="#a0a0a0" stroke-width="1.3"/>
<line x1="572.0" y1="326.5" x2="574.0" y2="326.5" stroke="#858585" stroke-width="1"/>
<text x="570.9" y="329.4" font-size="8.0" text-anchor="end" font-weight="normal" fill="#111" >45</text>
<line x1="572.0" y1="336.7" x2="574.0" y2="336.7" stroke="#858585" stroke-width="1"/>
<text x="570.9" y="339.6" font-size="8.0" text-anchor="end" font-weight="normal" fill="#111" >42</text>
<line x1="572.0" y1="347.0" x2="574.0" y2="347.0" stroke="#858585" stroke-width="1"/>
<text x="570.9" y="349.8" font-size="8.0" text-anchor="end" font-weight="normal" fill="#111" >39</text>
<line x1="572.0" y1="357.2" x2="574.0" y2="357.2" stroke="#858585" stroke-width="1"/>
<text x="570.9" y="360.1" font-size="8.0" text-anchor="end" font-weight="normal" fill="#111" >36</text>
<line x1="572.0" y1="367.4" x2="574.0" y2="367.4" stroke="#858585" stroke-width="1"/>
<text x="570.9" y="370.3" font-size="8.0" text-anchor="end" font-weight="normal" fill="#111" >33</text>
<line x1="572.0" y1="377.7" x2="574.0" y2="377.7" stroke="#858585" stroke-width="1"/>
<text x="570.9" y="380.5" font-size="8.0" text-anchor="end" font-weight="normal" fill="#111" >30</text>
<line x1="572.0" y1="387.9" x2="574.0" y2="387.9" stroke="#858585" stroke-width="1"/>
<text x="570.9" y="390.8" font-size="8.0" text-anchor="end" font-weight="normal" fill="#111" >27</text>
<line x1="572.0" y1="398.1" x2="574.0" y2="398.1" stroke="#858585" stroke-width="1"/>
<text x="570.9" y="401.0" font-size="8.0" text-anchor="end" font-weight="normal" fill="#111" >24</text>
<line x1="572.0" y1="408.4" x2="574.0" y2="408.4" stroke="#858585" stroke-width="1"/>
<text x="570.9" y="411.2" font-size="8.0" text-anchor="end" font-weight="normal" fill="#111" >21</text>
<line x1="572.8" y1="331.6" x2="574.0" y2="331.6" stroke="#858585" stroke-width="0.8"/>
<line x1="572.8" y1="341.9" x2="574.0" y2="341.9" stroke="#858585" stroke-width="0.8"/>
<line x1="572.8" y1="352.1" x2="574.0" y2="352.1" stroke="#858585" stroke-width="0.8"/>
<line x1="572.8" y1="362.3" x2="574.0" y2="362.3" stroke="#858585" stroke-width="0.8"/>
<line x1="572.8" y1="372.6" x2="574.0" y2="372.6" stroke="#858585" stroke-width="0.8"/>
<line x1="572.8" y1="382.8" x2="574.0" y2="382.8" stroke="#858585" stroke-width="0.8"/>
<line x1="572.8" y1="393.0" x2="574.0" y2="393.0" stroke="#858585" stroke-width="0.8"/>
<line x1="572.8" y1="403.3" x2="574.0" y2="403.3" stroke="#858585" stroke-width="0.8"/>
<line x1="576.0" y1="412.0" x2="576.0" y2="413.5" stroke="#858585" stroke-width="0.9"/>
<line x1="596.3" y1="412.5" x2="596.3" y2="413.5" stroke="#858585" stroke-width="0.8"/>
<line x1="616.6" y1="412.0" x2="616.6" y2="413.5" stroke="#858585" stroke-width="0.9"/>
<line x1="636.9" y1="412.5" x2="636.9" y2="413.5" stroke="#858585" stroke-width="0.8"/>
<line x1="657.2" y1="412.0" x2="657.2" y2="413.5" stroke="#858585" stroke-width="0.9"/>
<line x1="677.5" y1="412.5" x2="677.5" y2="413.5" stroke="#858585" stroke-width="0.8"/>
<line x1="697.8" y1="412.0" x2="697.8" y2="413.5" stroke="#858585" stroke-width="0.9"/>
<line x1="718.1" y1="412.5" x2="718.1" y2="413.5" stroke="#858585" stroke-width="0.8"/>
<line x1="738.4" y1="412.0" x2="738.4" y2="413.5" stroke="#858585" stroke-width="0.9"/>
<text x="544.5" y="322.5" font-size="11.5" text-anchor="start" font-weight="bold" fill="#111" >i</text>
<text x="577.5" y="321.0" font-size="9.4" text-anchor="start" font-weight="normal" fill="#222" >ΔT ≈ 8.6 °C</text>
<text transform="translate(556.2,366.7) rotate(-90)" font-size="10.2" text-anchor="middle" fill="#111">Temperature (<tspan font-size="6.4" dy="-3.9">o</tspan><tspan dy="3.9">C)</tspan></text>
<line x1="638" y1="332.7" x2="656" y2="332.7" stroke="#ff7f16" stroke-width="1.4"/>
<text x="658.3" y="335.3" font-size="7.6" text-anchor="start" font-weight="normal" fill="#222" >Ambient temperature</text>
<line x1="638" y1="342.2" x2="656" y2="342.2" stroke="#1f6fb4" stroke-width="1.4"/>
<text x="658.3" y="344.8" font-size="7.6" text-anchor="start" font-weight="normal" fill="#222" >PMMA <tspan font-size="5.8" dy="1.7">HPA</tspan><tspan dy="-1.7"> temperature</tspan></text>
<g clip-path="url(#cp03)"><path d="M143.0,452.4 L143.7,452.4 L144.4,452.3 L145.1,452.8 L145.8,452.9 L146.5,453.3 L147.2,453.0 L147.9,453.4 L148.6,453.0 L149.3,453.0 L150.0,452.8 L150.7,453.0 L151.4,453.4 L152.1,453.0 L152.8,452.3 L153.5,452.4 L154.2,452.2 L154.9,452.5 L155.6,452.3 L156.3,452.2 L157.0,452.5 L157.7,452.3 L158.4,451.5 L159.1,451.2 L159.8,451.7 L160.5,451.8 L161.2,451.9 L161.9,451.8 L162.6,451.3 L163.3,451.7 L164.0,452.2 L164.7,452.1 L165.4,451.5 L166.1,451.5 L166.8,452.3 L167.5,452.0 L168.2,451.6 L168.9,452.0 L169.6,452.3 L170.3,452.3 L171.0,452.0 L171.7,452.1 L172.4,451.4 L173.1,451.6 L173.8,451.9 L174.5,451.5 L175.2,451.3 L175.9,452.2 L176.6,452.4 L177.3,452.0 L178.0,452.1 L178.7,452.8 L179.4,453.5 L180.1,453.3 L180.8,453.4 L181.5,452.7 L182.2,452.9 L182.9,452.6 L183.6,452.6 L184.3,452.4 L185.0,452.6 L185.7,452.3 L186.4,452.8 L187.1,453.1 L187.8,453.4 L188.5,453.5 L189.2,452.9 L189.9,453.7 L190.6,453.6 L191.3,454.1 L192.0,453.8 L192.7,453.5 L193.4,454.1 L194.1,453.8 L194.8,454.6 L195.5,454.4 L196.2,454.8 L196.9,454.5 L197.6,454.3 L198.3,454.7 L199.0,454.9 L199.7,454.7 L200.4,454.6 L201.1,454.7 L201.8,455.1 L202.5,454.8 L203.2,454.7 L203.9,455.0 L204.6,455.3 L205.3,454.9 L206.0,455.0 L206.7,455.8 L207.4,455.3 L208.1,455.8 L208.8,455.5 L209.5,455.3 L210.2,455.7 L210.9,456.2 L211.6,456.2 L212.3,455.6 L213.0,456.2 L213.7,456.3 L214.4,456.2 L215.1,456.4 L215.8,456.4 L216.5,456.1 L217.2,457.0 L217.9,457.0 L218.6,457.7 L219.3,458.7 L220.0,459.1 L220.7,459.5 L221.4,459.8 L222.1,459.5 L222.8,459.3 L223.5,459.3 L224.2,458.7 L224.9,458.8 L225.6,458.4 L226.3,459.2 L227.0,459.2 L227.7,458.9 L228.4,458.5 L229.1,459.2 L229.8,458.9 L230.5,459.5 L231.2,459.5 L231.9,459.6 L232.6,459.9 L233.3,459.6 L234.0,460.2 L234.7,460.2 L235.4,460.5 L236.1,460.7 L236.8,460.3 L237.5,460.5 L238.2,460.6 L238.9,460.5 L239.6,461.3 L240.3,461.4 L241.0,461.4 L241.7,461.5 L242.4,462.0 L243.1,461.4 L243.8,461.7 L244.5,462.2 L245.2,462.2 L245.9,462.3 L246.6,462.2 L247.3,462.3 L248.0,462.8 L248.7,462.7 L249.4,463.4 L250.1,463.6 L250.8,463.7 L251.5,463.2 L252.2,463.3 L252.9,463.1 L253.6,463.3 L254.3,463.2 L255.0,463.6 L255.7,464.2 L256.4,464.2 L257.1,463.9 L257.8,463.8 L258.5,464.6 L259.2,464.1 L259.9,465.0 L260.6,465.4 L261.3,464.9 L262.0,465.9 L262.7,466.0 L263.4,466.0 L264.1,466.2 L264.8,466.6 L265.5,466.8 L266.2,467.4 L266.9,467.8 L267.6,467.4 L268.3,467.1 L269.0,467.9 L269.7,468.0 L270.4,468.2 L271.1,467.8 L271.8,467.8 L272.5,468.7 L273.2,468.5 L273.9,468.7 L274.6,469.3 L275.3,468.8 L276.0,469.2 L276.7,468.9 L277.4,469.4 L278.1,469.8 L278.8,469.5 L279.5,470.2 L280.2,470.7 L280.9,470.8 L281.6,471.0 L282.3,471.4 L283.0,471.4 L283.7,471.4 L284.4,471.8 L285.1,472.1 L285.8,472.1 L286.5,472.3 L287.2,472.1 L287.9,472.3 L288.6,472.5 L289.3,473.3 L290.0,473.5 L290.7,473.3 L291.4,474.0 L292.1,473.5 L292.8,473.5 L293.5,474.0 L294.2,474.0 L294.9,475.0 L295.6,474.8 L296.3,475.0 L297.0,475.6 L297.7,475.6 L298.4,475.9 L299.1,475.9 L299.8,476.1 L300.5,476.8 L301.2,476.5 L301.9,476.8 L302.6,477.1 L303.3,477.0 L304.0,477.1 L304.7,477.7 L305.4,478.3 L306.1,478.2 L306.8,478.1 L307.5,479.1 L308.2,478.7 L309.5,479.5 L309.5,533.0 L143.0,533.0 Z" fill="#fee4c8" stroke="none"/>
<polyline points="143.0,452.4 143.7,452.4 144.4,452.3 145.1,452.8 145.8,452.9 146.5,453.3 147.2,453.0 147.9,453.4 148.6,453.0 149.3,453.0 150.0,452.8 150.7,453.0 151.4,453.4 152.1,453.0 152.8,452.3 153.5,452.4 154.2,452.2 154.9,452.5 155.6,452.3 156.3,452.2 157.0,452.5 157.7,452.3 158.4,451.5 159.1,451.2 159.8,451.7 160.5,451.8 161.2,451.9 161.9,451.8 162.6,451.3 163.3,451.7 164.0,452.2 164.7,452.1 165.4,451.5 166.1,451.5 166.8,452.3 167.5,452.0 168.2,451.6 168.9,452.0 169.6,452.3 170.3,452.3 171.0,452.0 171.7,452.1 172.4,451.4 173.1,451.6 173.8,451.9 174.5,451.5 175.2,451.3 175.9,452.2 176.6,452.4 177.3,452.0 178.0,452.1 178.7,452.8 179.4,453.5 180.1,453.3 180.8,453.4 181.5,452.7 182.2,452.9 182.9,452.6 183.6,452.6 184.3,452.4 185.0,452.6 185.7,452.3 186.4,452.8 187.1,453.1 187.8,453.4 188.5,453.5 189.2,452.9 189.9,453.7 190.6,453.6 191.3,454.1 192.0,453.8 192.7,453.5 193.4,454.1 194.1,453.8 194.8,454.6 195.5,454.4 196.2,454.8 196.9,454.5 197.6,454.3 198.3,454.7 199.0,454.9 199.7,454.7 200.4,454.6 201.1,454.7 201.8,455.1 202.5,454.8 203.2,454.7 203.9,455.0 204.6,455.3 205.3,454.9 206.0,455.0 206.7,455.8 207.4,455.3 208.1,455.8 208.8,455.5 209.5,455.3 210.2,455.7 210.9,456.2 211.6,456.2 212.3,455.6 213.0,456.2 213.7,456.3 214.4,456.2 215.1,456.4 215.8,456.4 216.5,456.1 217.2,457.0 217.9,457.0 218.6,457.7 219.3,458.7 220.0,459.1 220.7,459.5 221.4,459.8 222.1,459.5 222.8,459.3 223.5,459.3 224.2,458.7 224.9,458.8 225.6,458.4 226.3,459.2 227.0,459.2 227.7,458.9 228.4,458.5 229.1,459.2 229.8,458.9 230.5,459.5 231.2,459.5 231.9,459.6 232.6,459.9 233.3,459.6 234.0,460.2 234.7,460.2 235.4,460.5 236.1,460.7 236.8,460.3 237.5,460.5 238.2,460.6 238.9,460.5 239.6,461.3 240.3,461.4 241.0,461.4 241.7,461.5 242.4,462.0 243.1,461.4 243.8,461.7 244.5,462.2 245.2,462.2 245.9,462.3 246.6,462.2 247.3,462.3 248.0,462.8 248.7,462.7 249.4,463.4 250.1,463.6 250.8,463.7 251.5,463.2 252.2,463.3 252.9,463.1 253.6,463.3 254.3,463.2 255.0,463.6 255.7,464.2 256.4,464.2 257.1,463.9 257.8,463.8 258.5,464.6 259.2,464.1 259.9,465.0 260.6,465.4 261.3,464.9 262.0,465.9 262.7,466.0 263.4,466.0 264.1,466.2 264.8,466.6 265.5,466.8 266.2,467.4 266.9,467.8 267.6,467.4 268.3,467.1 269.0,467.9 269.7,468.0 270.4,468.2 271.1,467.8 271.8,467.8 272.5,468.7 273.2,468.5 273.9,468.7 274.6,469.3 275.3,468.8 276.0,469.2 276.7,468.9 277.4,469.4 278.1,469.8 278.8,469.5 279.5,470.2 280.2,470.7 280.9,470.8 281.6,471.0 282.3,471.4 283.0,471.4 283.7,471.4 284.4,471.8 285.1,472.1 285.8,472.1 286.5,472.3 287.2,472.1 287.9,472.3 288.6,472.5 289.3,473.3 290.0,473.5 290.7,473.3 291.4,474.0 292.1,473.5 292.8,473.5 293.5,474.0 294.2,474.0 294.9,475.0 295.6,474.8 296.3,475.0 297.0,475.6 297.7,475.6 298.4,475.9 299.1,475.9 299.8,476.1 300.5,476.8 301.2,476.5 301.9,476.8 302.6,477.1 303.3,477.0 304.0,477.1 304.7,477.7 305.4,478.3 306.1,478.2 306.8,478.1 307.5,479.1 308.2,478.7 309.5,479.5" fill="none" stroke="#f7ab55" stroke-width="1.25" stroke-linejoin="round" />
</g>
<rect x="143.0" y="446.0" width="166.5" height="87.0" fill="none" stroke="#a0a0a0" stroke-width="1.3"/>
<line x1="141.0" y1="446.0" x2="143.0" y2="446.0" stroke="#858585" stroke-width="1"/>
<text x="140.4" y="448.9" font-size="8.0" text-anchor="end" font-weight="normal" fill="#111" >1000</text>
<line x1="141.0" y1="456.9" x2="143.0" y2="456.9" stroke="#858585" stroke-width="1"/>
<text x="140.4" y="459.7" font-size="8.0" text-anchor="end" font-weight="normal" fill="#111" >950</text>
<line x1="141.0" y1="467.8" x2="143.0" y2="467.8" stroke="#858585" stroke-width="1"/>
<text x="140.4" y="470.6" font-size="8.0" text-anchor="end" font-weight="normal" fill="#111" >900</text>
<line x1="141.0" y1="478.6" x2="143.0" y2="478.6" stroke="#858585" stroke-width="1"/>
<text x="140.4" y="481.5" font-size="8.0" text-anchor="end" font-weight="normal" fill="#111" >850</text>
<line x1="141.0" y1="489.5" x2="143.0" y2="489.5" stroke="#858585" stroke-width="1"/>
<text x="140.4" y="492.4" font-size="8.0" text-anchor="end" font-weight="normal" fill="#111" >800</text>
<line x1="141.0" y1="500.4" x2="143.0" y2="500.4" stroke="#858585" stroke-width="1"/>
<text x="140.4" y="503.2" font-size="8.0" text-anchor="end" font-weight="normal" fill="#111" >750</text>
<line x1="141.0" y1="511.2" x2="143.0" y2="511.2" stroke="#858585" stroke-width="1"/>
<text x="140.4" y="514.1" font-size="8.0" text-anchor="end" font-weight="normal" fill="#111" >700</text>
<line x1="141.0" y1="522.1" x2="143.0" y2="522.1" stroke="#858585" stroke-width="1"/>
<text x="140.4" y="525.0" font-size="8.0" text-anchor="end" font-weight="normal" fill="#111" >650</text>
<line x1="141.0" y1="533.0" x2="143.0" y2="533.0" stroke="#858585" stroke-width="1"/>
<text x="140.4" y="535.9" font-size="8.0" text-anchor="end" font-weight="normal" fill="#111" >600</text>
<line x1="141.8" y1="451.4" x2="143.0" y2="451.4" stroke="#858585" stroke-width="0.8"/>
<line x1="141.8" y1="462.3" x2="143.0" y2="462.3" stroke="#858585" stroke-width="0.8"/>
<line x1="141.8" y1="473.2" x2="143.0" y2="473.2" stroke="#858585" stroke-width="0.8"/>
<line x1="141.8" y1="484.1" x2="143.0" y2="484.1" stroke="#858585" stroke-width="0.8"/>
<line x1="141.8" y1="494.9" x2="143.0" y2="494.9" stroke="#858585" stroke-width="0.8"/>
<line x1="141.8" y1="505.8" x2="143.0" y2="505.8" stroke="#858585" stroke-width="0.8"/>
<line x1="141.8" y1="516.7" x2="143.0" y2="516.7" stroke="#858585" stroke-width="0.8"/>
<line x1="141.8" y1="527.6" x2="143.0" y2="527.6" stroke="#858585" stroke-width="0.8"/>
<line x1="145.0" y1="531.5" x2="145.0" y2="533.0" stroke="#858585" stroke-width="0.9"/>
<line x1="165.3" y1="532.0" x2="165.3" y2="533.0" stroke="#858585" stroke-width="0.8"/>
<line x1="185.6" y1="531.5" x2="185.6" y2="533.0" stroke="#858585" stroke-width="0.9"/>
<line x1="205.9" y1="532.0" x2="205.9" y2="533.0" stroke="#858585" stroke-width="0.8"/>
<line x1="226.2" y1="531.5" x2="226.2" y2="533.0" stroke="#858585" stroke-width="0.9"/>
<line x1="246.5" y1="532.0" x2="246.5" y2="533.0" stroke="#858585" stroke-width="0.8"/>
<line x1="266.8" y1="531.5" x2="266.8" y2="533.0" stroke="#858585" stroke-width="0.9"/>
<line x1="287.1" y1="532.0" x2="287.1" y2="533.0" stroke="#858585" stroke-width="0.8"/>
<line x1="307.4" y1="531.5" x2="307.4" y2="533.0" stroke="#858585" stroke-width="0.9"/>
<text x="152.0" y="543.0" font-size="8.0" text-anchor="middle" font-weight="normal" fill="#111" >12:00</text>
<text x="186.2" y="543.0" font-size="8.0" text-anchor="middle" font-weight="normal" fill="#111" >12:30</text>
<text x="226.8" y="543.0" font-size="8.0" text-anchor="middle" font-weight="normal" fill="#111" >13:00</text>
<text x="267.2" y="543.0" font-size="8.0" text-anchor="middle" font-weight="normal" fill="#111" >13:30</text>
<text x="301.3" y="543.0" font-size="8.0" text-anchor="middle" font-weight="normal" fill="#111" >14:00</text>
<text x="227.4" y="553.1" font-size="10.5" text-anchor="middle" font-weight="normal" fill="#1a1a1a" >Time (h)</text>
<text x="102.5" y="443.8" font-size="11.5" text-anchor="start" font-weight="bold" fill="#111" >j</text>
<text x="142.0" y="441.0" font-size="12" text-anchor="start" font-weight="bold" fill="#111" >•Xiamen city</text>
<text x="309.5" y="439.8" font-size="8.8" text-anchor="end" font-weight="normal" fill="#222" >SI ≈ 930 W/m^2</text>
<text transform="translate(120.5,490.0) rotate(-90)" font-size="9.9" text-anchor="middle" fill="#111">Solar irradiance (W/m<tspan font-size="7.0" dy="-4.0">2</tspan><tspan dy="4.0">)</tspan></text>
<g clip-path="url(#cp13)">
<polyline points="347.0,496.4 347.5,481.6 347.8,509.2 348.2,494.4 348.5,504.9 349.0,490.2 349.2,510.5 349.8,488.8 350.0,515.8 350.5,490.2 350.8,517.4 351.2,504.4 351.5,509.7 352.0,494.4 352.2,497.6 352.8,468.6 353.0,518.6 353.5,498.9 353.8,511.5 354.2,495.0 354.5,520.8 355.0,468.4 355.2,533.0 355.8,491.9 356.0,519.8 356.5,494.1 356.8,511.1 357.2,495.1 357.5,507.7 358.0,491.6 358.2,513.0 358.8,501.3 359.0,501.9 359.5,488.7 359.8,504.6 360.2,490.0 360.5,494.1 361.0,464.1 361.2,532.9 361.8,488.1 362.0,530.2 362.5,467.0 362.8,496.1 363.2,486.0 363.5,505.9 364.0,486.0 364.2,512.9 364.8,483.4 365.0,516.2 365.5,465.6 365.8,499.3 366.2,476.3 366.5,521.0 367.0,506.8 367.2,514.4 367.8,497.9 368.0,489.1 368.5,466.0 368.8,511.6 369.2,475.5 369.5,521.5 370.0,476.8 370.2,491.8 370.8,475.4 371.0,495.6 371.5,475.9 371.8,495.5 372.2,486.0 372.5,511.0 373.0,451.8 373.2,514.0 373.8,490.8 374.0,504.9 374.5,495.0 374.8,512.2 375.2,485.4 375.5,493.6 376.0,481.3 376.2,499.0 376.8,476.4 377.0,502.6 377.5,485.4 377.8,501.4 378.2,488.4 378.5,505.1 379.0,491.9 379.2,511.9 379.8,477.1 380.0,486.7 380.5,464.1 380.8,500.3 381.2,473.9 381.5,496.8 382.0,476.8 382.2,531.2 382.8,492.4 383.0,506.6 383.5,479.7 383.8,504.3 384.2,492.5 384.5,498.5 385.0,482.9 385.2,498.7 385.8,473.2 386.0,484.6 386.5,459.0 386.8,513.4 387.2,472.1 387.5,481.1 388.0,453.5 388.2,506.7 388.8,482.7 389.0,482.3 389.5,460.4 389.8,530.7 390.2,489.3 390.5,481.3 391.0,460.8 391.2,513.5 391.8,504.4 392.0,512.4 392.5,497.5 392.8,496.1 393.2,474.5 393.5,532.9 394.0,494.0 394.2,520.0 394.8,484.2 395.0,457.6 395.5,476.8 395.8,502.4 396.2,457.1 396.5,483.5 397.0,465.9 397.2,503.6 397.8,484.7 398.0,483.3 398.5,473.5 398.8,518.0 399.2,487.4 399.5,532.3 400.0,498.5 400.2,511.1 400.8,504.3 401.0,529.8 401.5,496.5 401.8,521.1 402.2,488.9 402.5,501.2 403.0,487.2 403.2,501.8 403.8,481.7 404.0,508.6 404.5,482.4 404.8,513.1 405.2,499.5 405.5,504.6 406.0,476.9 406.2,490.0 406.8,474.1 407.0,525.8 407.5,480.9 407.8,506.9 408.2,469.5 408.5,497.1 409.0,474.9 409.2,532.4 409.8,479.9 410.0,521.8 410.5,493.3 410.8,508.4 411.2,476.7 411.5,498.6 412.0,474.5 412.2,514.3 412.8,493.9 413.0,508.7 413.5,504.2 413.8,491.7 414.2,473.8 414.5,496.0 415.0,476.9 415.2,530.5 415.8,507.8 416.0,495.7 416.5,486.4 416.8,511.2 417.2,490.4 417.5,533.0 418.0,503.0 418.2,507.3 418.8,489.2 419.0,509.5 419.5,489.8 419.8,460.5 420.2,474.5 420.5,497.7 421.0,476.8 421.2,503.0 421.8,467.0 422.0,498.7 422.5,475.9 422.8,518.4 423.2,485.9 423.5,523.6 424.0,497.8 424.2,521.0 424.8,487.6 425.0,506.0 425.5,492.1 425.8,531.8 426.2,471.8 426.5,512.6 427.0,501.3 427.2,497.9 427.8,480.3 428.0,525.8 428.5,501.6 428.8,490.0 429.2,460.6 429.5,496.9 430.0,484.6 430.2,491.3 430.8,470.9 431.0,513.1 431.5,505.8 431.8,500.6 432.2,455.6 432.5,530.3 433.0,505.2 433.2,497.5 433.8,469.3 434.0,487.2 434.5,461.1 434.8,515.7 435.2,492.6 435.5,490.4 436.0,461.6 436.2,517.2 436.8,492.7 437.0,518.2 437.5,472.8 437.8,507.7 438.2,466.7 438.5,493.5 439.0,484.5 439.2,513.7 439.8,490.7 440.0,498.1 440.5,484.6 440.8,513.1 441.2,475.6 441.5,499.5 442.0,451.8 442.2,491.2 442.8,470.2 443.0,509.4 443.5,490.2 443.8,516.8 444.2,503.5 444.5,493.4 445.0,473.9 445.2,504.8 445.8,490.7 446.0,521.4 446.5,504.7 446.8,514.1 447.2,499.4 447.5,506.3 448.0,492.4 448.2,504.6 448.8,472.4 449.0,490.8 449.5,456.5 449.8,498.2 450.2,459.3 450.5,525.0 451.0,495.5 451.2,500.3 451.8,470.8 452.0,524.9 452.5,483.8 452.8,505.1 453.2,474.8 453.5,496.6 454.0,480.0 454.2,498.8 454.8,484.6 455.0,531.4 455.5,478.2 455.8,525.9 456.2,514.2 456.5,513.9 457.0,475.9 457.2,502.0 457.8,472.7 458.0,502.4 458.5,482.2 458.8,508.3 459.2,475.1 459.5,510.3 460.0,486.2 460.2,498.8 460.8,481.7 461.0,533.0 461.5,512.7 461.8,503.0 462.2,486.6 462.5,494.5 463.0,477.3 463.2,510.7 463.8,500.7 464.0,507.4 464.5,483.2 464.8,459.1 465.2,489.1 465.5,481.4 466.0,470.2 466.2,480.3 466.8,474.2 467.0,521.9 467.5,486.1 467.8,516.7 468.2,484.4 468.5,530.9 469.0,476.4 469.2,510.3 469.8,476.1 470.0,513.4 470.5,491.9 470.8,491.0 471.2,464.2 471.5,499.4 472.0,458.1 472.2,530.1 472.8,500.0 473.0,518.2 473.5,484.7 473.8,494.5 474.2,470.5 474.5,494.2 475.0,470.8 475.2,500.9 475.8,464.3 476.0,528.8 476.5,492.3 476.8,499.1 477.2,474.3 477.5,486.4 478.0,470.9 478.2,490.0 478.8,462.1 479.0,501.5 479.5,469.9 479.8,457.6 480.2,486.8 480.5,505.1 481.0,457.8 481.2,482.9 481.8,465.8 482.0,524.7 482.5,480.0 482.8,479.5 483.2,462.3 483.5,532.0 484.0,470.2 484.2,502.2 484.8,478.9 485.0,520.2 485.5,483.9 485.8,521.6 486.2,476.5 486.5,513.6 487.0,483.8 487.2,490.8 487.8,483.1 488.0,499.7 488.5,484.5 488.8,517.3 489.2,498.0 489.5,478.6 490.0,468.5 490.2,497.4 490.8,457.0 491.0,504.1 491.5,479.7 491.8,501.1 492.2,482.7 492.5,500.1 493.0,486.2 493.2,494.3 493.8,476.0 494.0,487.7 494.5,466.1 494.8,507.0 495.2,493.6 495.5,499.4 496.0,467.6 496.2,498.9 496.8,482.4 497.0,499.4 497.5,475.3 497.8,522.0 498.2,478.1 498.5,501.6 499.0,467.3 499.2,525.5 499.8,489.5 500.0,502.1 500.5,471.8 500.8,503.7 501.2,494.5 501.5,517.0 502.0,506.3 502.2,510.0 502.8,488.4 503.0,486.3 503.5,471.3 503.8,514.3 504.2,474.2 504.5,501.0 505.0,495.4 505.2,523.3 505.8,495.1 506.0,497.8 506.5,478.3 506.8,498.4 507.2,477.8 507.5,496.4 508.0,461.0 508.2,503.2 508.8,491.1 509.0,508.9 509.5,481.7 509.8,453.2 510.2,497.8 510.5,517.3 511.0,474.9 511.2,494.6 511.8,486.0 512.0,517.4 512.5,482.1" fill="none" stroke="#78c8f7" stroke-width="1.15" stroke-linejoin="round" />
<polyline points="347.0,480.2 347.7,481.8 348.4,482.5 349.1,482.9 349.8,483.1 350.5,482.5 351.2,483.2 351.9,484.6 352.6,484.2 353.3,485.6 354.0,484.5 354.7,482.2 355.4,480.7 356.1,478.6 356.8,476.6 357.5,475.5 358.2,475.1 358.9,475.6 359.6,475.2 360.3,474.1 361.0,472.4 361.7,473.3 362.4,471.4 363.1,471.7 363.8,473.2 364.5,472.9 365.2,474.3 365.9,474.8 366.6,474.1 367.3,476.0 368.0,477.9 368.7,478.7 369.4,480.6 370.1,481.7 370.8,479.3 371.5,478.2 372.2,476.8 372.9,474.6 373.6,471.5 374.3,470.5 375.0,470.2 375.7,468.7 376.4,467.2 377.1,466.7 377.8,465.1 378.5,464.7 379.2,464.8 379.9,468.0 380.6,469.2 381.3,469.3 382.0,465.3 382.7,463.5 383.4,461.1 384.1,458.6 384.8,458.5 385.5,457.6 386.2,456.8 386.9,455.1 387.6,454.6 388.3,456.2 389.0,456.6 389.7,456.5 390.4,457.2 391.1,459.1 391.8,457.7 392.5,457.9 393.2,457.8 393.9,457.3 394.6,456.0 395.3,455.7 396.0,456.7 396.7,455.7 397.4,454.8 398.1,454.5 398.8,453.2 399.5,453.1 400.2,455.3 400.9,456.2 401.6,455.8 402.3,456.5 403.0,456.7 403.7,456.8 404.4,456.9 405.1,457.2 405.8,456.5 406.5,456.7 407.2,457.5 407.9,458.0 408.6,458.0 409.3,459.2 410.0,461.6 410.7,462.0 411.4,464.6 412.1,463.6 412.8,463.1 413.5,464.8 414.2,463.8 414.9,463.7 415.6,463.6 416.3,462.4 417.0,462.5 417.7,462.4 418.4,463.0 419.1,462.6 419.8,461.8 420.5,460.0 421.2,459.7 421.9,460.0 422.6,458.3 423.3,458.7 424.0,459.7 424.7,461.0 425.4,459.5 426.1,460.9 426.8,460.9 427.5,461.4 428.2,462.2 428.9,460.2 429.6,460.5 430.3,459.5 431.0,459.8 431.7,459.4 432.4,458.4 433.1,457.4 433.8,458.2 434.5,457.9 435.2,457.3 435.9,457.3 436.6,457.4 437.3,455.7 438.0,455.8 438.7,455.5 439.4,453.7 440.1,454.1 440.8,452.4 441.5,452.8 442.2,451.6 442.9,452.6 443.6,453.8 444.3,454.7 445.0,455.0 445.7,455.5 446.4,455.3 447.1,455.3 447.8,454.1 448.5,454.5 449.2,452.8 449.9,452.7 450.6,451.6 451.3,451.1 452.0,451.9 452.7,452.0 453.4,453.5 454.1,454.3 454.8,454.4 455.5,455.7 456.2,455.9 456.9,456.6 457.6,455.9 458.3,456.7 459.0,456.5 459.7,456.1 460.4,457.1 461.1,455.3 461.8,455.5 462.5,454.6 463.2,454.6 463.9,454.7 464.6,455.2 465.3,455.9 466.0,456.4 466.7,455.7 467.4,457.1 468.1,457.3 468.8,456.7 469.5,457.0 470.2,457.8 470.9,459.0 471.6,457.9 472.3,458.8 473.0,458.1 473.7,457.4 474.4,456.4 475.1,455.7 475.8,455.3 476.5,455.4 477.2,454.4 477.9,454.4 478.6,454.3 479.3,452.2 480.0,452.6 480.7,455.3 481.4,454.9 482.1,456.8 482.8,457.0 483.5,457.3 484.2,457.6 484.9,459.2 485.6,459.2 486.3,457.5 487.0,456.5 487.7,456.3 488.4,457.0 489.1,456.3 489.8,454.5 490.5,454.6 491.2,454.8 491.9,455.5 492.6,454.8 493.3,454.9 494.0,455.3 494.7,454.9 495.4,455.3 496.1,456.2 496.8,455.7 497.5,453.0 498.2,451.8 498.9,450.7 499.6,448.5 500.3,449.2 501.0,450.1 501.7,450.3 502.4,450.4 503.1,452.3 503.8,451.1 504.5,452.4 505.2,450.9 505.9,451.5 506.6,451.5 507.3,451.2 508.0,451.5 508.7,452.0 509.4,450.8 510.1,450.0 510.8,450.9 511.5,453.2 512.2,453.8" fill="none" stroke="#153f68" stroke-width="1.25" stroke-linejoin="round" />
</g>
<rect x="347.0" y="446.0" width="165.5" height="87.0" fill="none" stroke="#a0a0a0" stroke-width="1.3"/>
<line x1="345.0" y1="446.0" x2="347.0" y2="446.0" stroke="#858585" stroke-width="1"/>
<text x="344.4" y="448.9" font-size="8.0" text-anchor="end" font-weight="normal" fill="#111" >3.0</text>
<line x1="345.0" y1="460.5" x2="347.0" y2="460.5" stroke="#858585" stroke-width="1"/>
<text x="344.4" y="463.4" font-size="8.0" text-anchor="end" font-weight="normal" fill="#111" >2.5</text>
<line x1="345.0" y1="475.0" x2="347.0" y2="475.0" stroke="#858585" stroke-width="1"/>
<text x="344.4" y="477.9" font-size="8.0" text-anchor="end" font-weight="normal" fill="#111" >2.0</text>
<line x1="345.0" y1="489.5" x2="347.0" y2="489.5" stroke="#858585" stroke-width="1"/>
<text x="344.4" y="492.4" font-size="8.0" text-anchor="end" font-weight="normal" fill="#111" >1.5</text>
<line x1="345.0" y1="504.0" x2="347.0" y2="504.0" stroke="#858585" stroke-width="1"/>
<text x="344.4" y="506.9" font-size="8.0" text-anchor="end" font-weight="normal" fill="#111" >1.0</text>
<line x1="345.0" y1="518.5" x2="347.0" y2="518.5" stroke="#858585" stroke-width="1"/>
<text x="344.4" y="521.4" font-size="8.0" text-anchor="end" font-weight="normal" fill="#111" >0.5</text>
<line x1="345.0" y1="533.0" x2="347.0" y2="533.0" stroke="#858585" stroke-width="1"/>
<text x="344.4" y="535.9" font-size="8.0" text-anchor="end" font-weight="normal" fill="#111" >0.0</text>
<line x1="345.8" y1="453.2" x2="347.0" y2="453.2" stroke="#858585" stroke-width="0.8"/>
<line x1="345.8" y1="467.8" x2="347.0" y2="467.8" stroke="#858585" stroke-width="0.8"/>
<line x1="345.8" y1="482.2" x2="347.0" y2="482.2" stroke="#858585" stroke-width="0.8"/>
<line x1="345.8" y1="496.8" x2="347.0" y2="496.8" stroke="#858585" stroke-width="0.8"/>
<line x1="345.8" y1="511.2" x2="347.0" y2="511.2" stroke="#858585" stroke-width="0.8"/>
<line x1="345.8" y1="525.8" x2="347.0" y2="525.8" stroke="#858585" stroke-width="0.8"/>
<line x1="512.5" y1="446.0" x2="514.5" y2="446.0" stroke="#858585" stroke-width="1"/>
<text x="515.0" y="448.9" font-size="8.0" text-anchor="start" font-weight="normal" fill="#111" >70</text>
<line x1="512.5" y1="456.9" x2="514.5" y2="456.9" stroke="#858585" stroke-width="1"/>
<text x="515.0" y="459.7" font-size="8.0" text-anchor="start" font-weight="normal" fill="#111" >65</text>
<line x1="512.5" y1="467.8" x2="514.5" y2="467.8" stroke="#858585" stroke-width="1"/>
<text x="515.0" y="470.6" font-size="8.0" text-anchor="start" font-weight="normal" fill="#111" >60</text>
<line x1="512.5" y1="478.6" x2="514.5" y2="478.6" stroke="#858585" stroke-width="1"/>
<text x="515.0" y="481.5" font-size="8.0" text-anchor="start" font-weight="normal" fill="#111" >55</text>
<line x1="512.5" y1="489.5" x2="514.5" y2="489.5" stroke="#858585" stroke-width="1"/>
<text x="515.0" y="492.4" font-size="8.0" text-anchor="start" font-weight="normal" fill="#111" >50</text>
<line x1="512.5" y1="500.4" x2="514.5" y2="500.4" stroke="#858585" stroke-width="1"/>
<text x="515.0" y="503.2" font-size="8.0" text-anchor="start" font-weight="normal" fill="#111" >45</text>
<line x1="512.5" y1="511.2" x2="514.5" y2="511.2" stroke="#858585" stroke-width="1"/>
<text x="515.0" y="514.1" font-size="8.0" text-anchor="start" font-weight="normal" fill="#111" >40</text>
<line x1="512.5" y1="522.1" x2="514.5" y2="522.1" stroke="#858585" stroke-width="1"/>
<text x="515.0" y="525.0" font-size="8.0" text-anchor="start" font-weight="normal" fill="#111" >35</text>
<line x1="512.5" y1="533.0" x2="514.5" y2="533.0" stroke="#858585" stroke-width="1"/>
<text x="515.0" y="535.9" font-size="8.0" text-anchor="start" font-weight="normal" fill="#111" >30</text>
<line x1="512.5" y1="451.4" x2="513.7" y2="451.4" stroke="#858585" stroke-width="0.8"/>
<line x1="512.5" y1="462.3" x2="513.7" y2="462.3" stroke="#858585" stroke-width="0.8"/>
<line x1="512.5" y1="473.2" x2="513.7" y2="473.2" stroke="#858585" stroke-width="0.8"/>
<line x1="512.5" y1="484.1" x2="513.7" y2="484.1" stroke="#858585" stroke-width="0.8"/>
<line x1="512.5" y1="494.9" x2="513.7" y2="494.9" stroke="#858585" stroke-width="0.8"/>
<line x1="512.5" y1="505.8" x2="513.7" y2="505.8" stroke="#858585" stroke-width="0.8"/>
<line x1="512.5" y1="516.7" x2="513.7" y2="516.7" stroke="#858585" stroke-width="0.8"/>
<line x1="512.5" y1="527.6" x2="513.7" y2="527.6" stroke="#858585" stroke-width="0.8"/>
<line x1="349.0" y1="531.5" x2="349.0" y2="533.0" stroke="#858585" stroke-width="0.9"/>
<line x1="369.3" y1="532.0" x2="369.3" y2="533.0" stroke="#858585" stroke-width="0.8"/>
<line x1="389.6" y1="531.5" x2="389.6" y2="533.0" stroke="#858585" stroke-width="0.9"/>
<line x1="409.9" y1="532.0" x2="409.9" y2="533.0" stroke="#858585" stroke-width="0.8"/>
<line x1="430.2" y1="531.5" x2="430.2" y2="533.0" stroke="#858585" stroke-width="0.9"/>
<line x1="450.5" y1="532.0" x2="450.5" y2="533.0" stroke="#858585" stroke-width="0.8"/>
<line x1="470.8" y1="531.5" x2="470.8" y2="533.0" stroke="#858585" stroke-width="0.9"/>
<line x1="491.1" y1="532.0" x2="491.1" y2="533.0" stroke="#858585" stroke-width="0.8"/>
<line x1="511.4" y1="531.5" x2="511.4" y2="533.0" stroke="#858585" stroke-width="0.9"/>
<text x="356.0" y="543.0" font-size="8.0" text-anchor="middle" font-weight="normal" fill="#111" >12:00</text>
<text x="390.2" y="543.0" font-size="8.0" text-anchor="middle" font-weight="normal" fill="#111" >12:30</text>
<text x="430.8" y="543.0" font-size="8.0" text-anchor="middle" font-weight="normal" fill="#111" >13:00</text>
<text x="471.2" y="543.0" font-size="8.0" text-anchor="middle" font-weight="normal" fill="#111" >13:30</text>
<text x="505.3" y="543.0" font-size="8.0" text-anchor="middle" font-weight="normal" fill="#111" >14:00</text>
<text x="430.9" y="553.1" font-size="10.5" text-anchor="middle" font-weight="normal" fill="#1a1a1a" >Time (h)</text>
<text x="316.5" y="443.8" font-size="11.5" text-anchor="start" font-weight="bold" fill="#111" >k</text>
<text x="344.5" y="438.8" font-size="8.7" text-anchor="start" font-weight="normal" fill="#222" >WS ≈ 1.1 m/s, RH ≈ 64%</text>
<text transform="translate(329.5,489.3) rotate(-90)" font-size="9.85" text-anchor="middle" fill="#111">Wind Speed (m/s)</text>
<text transform="translate(534.7,488.0) rotate(-90)" font-size="9.9" text-anchor="middle" fill="#111">Relative Humidity (%)</text>
<line x1="433" y1="431.0" x2="451" y2="431.0" stroke="#a6dcf8" stroke-width="2"/>
<text x="452.5" y="433.6" font-size="7.6" text-anchor="start" font-weight="normal" fill="#222" >Wind Speed</text>
<line x1="433" y1="440.4" x2="451" y2="440.4" stroke="#2e5f8a" stroke-width="1.3"/>
<text x="452.5" y="443.0" font-size="7.6" text-anchor="start" font-weight="normal" fill="#222" >Relative Humidity</text>
<g clip-path="url(#cp23)">
<polyline points="574.0,477.0 574.8,472.6 575.5,480.8 576.2,475.9 577.0,469.6 577.8,481.8 578.5,482.3 579.2,480.2 580.0,486.1 580.8,484.1 581.5,482.2 582.2,488.2 583.0,490.5 583.8,490.9 584.5,491.1 585.2,485.4 586.0,482.5 586.8,490.6 587.5,485.6 588.2,482.9 589.0,473.2 589.8,484.1 590.5,473.3 591.2,487.9 592.0,482.5 592.8,486.6 593.5,480.5 594.2,480.3 595.0,468.3 595.8,480.5 596.5,477.3 597.2,478.3 598.0,486.2 598.8,479.8 599.5,489.5 600.2,485.6 601.0,483.6 601.8,490.5 602.5,490.9 603.2,490.2 604.0,481.2 604.8,485.3 605.5,482.8 606.2,474.7 607.0,484.3 607.8,488.0 608.5,482.6 609.2,496.4 610.0,497.2 610.8,499.6 611.5,498.4 612.2,497.4 613.0,499.7 613.8,496.2 614.5,493.0 615.2,489.3 616.0,486.4 616.8,487.5 617.5,491.2 618.2,488.4 619.0,478.1 619.8,486.5 620.5,484.5 621.2,490.0 622.0,489.4 622.8,490.6 623.5,486.2 624.2,491.9 625.0,492.7 625.8,490.0 626.5,479.7 627.2,481.4 628.0,480.4 628.8,487.3 629.5,483.8 630.2,494.1 631.0,494.2 631.8,487.9 632.5,494.1 633.2,491.0 634.0,490.3 634.8,486.5 635.5,486.1 636.2,487.0 637.0,478.4 637.8,481.4 638.5,489.0 639.2,488.4 640.0,482.5 640.8,484.1 641.5,487.0 642.2,483.9 643.0,480.1 643.8,489.7 644.5,491.2 645.2,490.4 646.0,483.8 646.8,489.7 647.5,478.8 648.2,476.8 649.0,486.6 649.8,482.1 650.5,481.6 651.2,478.8 652.0,482.0 652.8,490.7 653.5,486.7 654.2,493.0 655.0,489.5 655.8,484.0 656.5,489.4 657.2,488.6 658.0,481.2 658.8,483.0 659.5,486.3 660.2,492.0 661.0,489.8 661.8,488.1 662.5,487.4 663.2,485.9 664.0,484.9 664.8,491.9 665.5,493.0 666.2,493.5 667.0,490.6 667.8,488.2 668.5,484.0 669.2,482.7 670.0,493.5 670.8,493.9 671.5,487.9 672.2,492.1 673.0,494.9 673.8,495.7 674.5,496.5 675.2,495.6 676.0,495.9 676.8,493.4 677.5,485.8 678.2,482.9 679.0,489.7 679.8,492.5 680.5,484.4 681.2,488.1 682.0,490.1 682.8,487.3 683.5,484.3 684.2,486.1 685.0,493.8 685.8,487.7 686.5,495.9 687.2,495.9 688.0,486.5 688.8,485.2 689.5,490.1 690.2,491.3 691.0,480.8 691.8,486.1 692.5,486.1 693.2,487.3 694.0,488.2 694.8,487.4 695.5,482.3 696.2,486.8 697.0,477.7 697.8,484.8 698.5,476.5 699.2,485.2 700.0,481.2 700.8,485.2 701.5,480.1 702.2,489.0 703.0,483.2 703.8,493.1 704.5,487.7 705.2,484.4 706.0,488.4 706.8,483.2 707.5,480.7 708.2,479.6 709.0,485.1 709.8,477.6 710.5,488.3 711.2,488.3 712.0,492.7 712.8,495.1 713.5,491.9 714.2,483.3 715.0,488.0 715.8,489.1 716.5,483.7 717.2,492.0 718.0,489.2 718.8,491.0 719.5,494.8 720.2,490.0 721.0,492.3 721.8,493.1 722.5,499.3 723.2,495.9 724.0,491.9 724.8,497.2 725.5,495.3 726.2,485.0 727.0,493.7 727.8,492.3 728.5,487.5 729.2,494.6 730.0,495.8 730.8,492.6 731.5,495.8 732.2,492.0 733.0,485.2 733.8,486.3 734.5,474.8 735.2,481.7 736.0,488.3 736.8,485.9 737.5,485.5 738.2,491.6" fill="none" stroke="#ff8420" stroke-width="1.3" stroke-linejoin="round" />
<polyline points="574.0,507.5 574.7,507.2 575.4,506.6 576.1,507.1 576.8,506.2 577.5,505.9 578.2,505.6 578.9,506.0 579.6,505.9 580.3,505.3 581.0,504.6 581.7,505.0 582.4,504.5 583.1,504.7 583.8,505.2 584.5,504.7 585.2,504.8 585.9,506.1 586.6,506.6 587.3,505.9 588.0,506.2 588.7,506.7 589.4,507.5 590.1,507.2 590.8,508.2 591.5,507.5 592.2,508.6 592.9,508.0 593.6,508.8 594.3,509.5 595.0,509.2 595.7,509.3 596.4,508.6 597.1,509.2 597.8,509.2 598.5,508.3 599.2,508.7 599.9,508.9 600.6,508.0 601.3,508.0 602.0,508.4 602.7,508.4 603.4,508.9 604.1,508.5 604.8,508.5 605.5,508.3 606.2,508.4 606.9,509.3 607.6,508.8 608.3,509.6 609.0,509.8 609.7,509.7 610.4,509.5 611.1,509.2 611.8,509.4 612.5,510.5 613.2,511.1 613.9,511.3 614.6,510.7 615.3,511.5 616.0,511.2 616.7,511.2 617.4,511.9 618.1,511.9 618.8,511.8 619.5,511.3 620.2,511.1 620.9,511.2 621.6,511.3 622.3,511.3 623.0,511.8 623.7,511.7 624.4,511.5 625.1,512.4 625.8,512.0 626.5,511.4 627.2,511.2 627.9,511.8 628.6,511.2 629.3,511.7 630.0,511.1 630.7,511.5 631.4,511.7 632.1,511.6 632.8,511.1 633.5,511.7 634.2,512.0 634.9,511.9 635.6,512.1 636.3,512.3 637.0,511.6 637.7,511.7 638.4,511.6 639.1,512.1 639.8,511.5 640.5,511.5 641.2,511.9 641.9,512.1 642.6,512.7 643.3,511.9 644.0,511.3 644.7,511.6 645.4,512.2 646.1,511.3 646.8,511.6 647.5,511.7 648.2,511.9 648.9,511.3 649.6,511.5 650.3,511.9 651.0,511.9 651.7,511.3 652.4,510.8 653.1,511.0 653.8,511.0 654.5,510.9 655.2,510.8 655.9,510.3 656.6,510.5 657.3,510.0 658.0,509.7 658.7,509.3 659.4,509.7 660.1,509.3 660.8,509.6 661.5,509.8 662.2,510.1 662.9,510.4 663.6,511.4 664.3,511.1 665.0,511.3 665.7,511.3 666.4,511.6 667.1,512.2 667.8,512.1 668.5,512.3 669.2,512.3 669.9,512.2 670.6,512.4 671.3,512.5 672.0,512.9 672.7,512.8 673.4,513.5 674.1,513.5 674.8,512.7 675.5,513.1 676.2,512.6 676.9,512.5 677.6,512.1 678.3,512.6 679.0,512.6 679.7,512.0 680.4,512.5 681.1,512.3 681.8,513.0 682.5,512.7 683.2,512.5 683.9,512.3 684.6,513.6 685.3,512.8 686.0,512.9 686.7,513.8 687.4,512.9 688.1,513.1 688.8,513.2 689.5,513.4 690.2,513.6 690.9,513.8 691.6,513.0 692.3,512.5 693.0,512.6 693.7,512.3 694.4,512.5 695.1,513.0 695.8,513.4 696.5,512.4 697.2,512.4 697.9,513.1 698.6,512.9 699.3,512.5 700.0,512.0 700.7,511.9 701.4,512.0 702.1,512.5 702.8,511.9 703.5,512.4 704.2,513.0 704.9,512.2 705.6,512.5 706.3,512.9 707.0,513.3 707.7,513.6 708.4,513.8 709.1,513.6 709.8,513.5 710.5,514.0 711.2,514.0 711.9,514.5 712.6,514.1 713.3,514.1 714.0,514.2 714.7,513.9 715.4,513.9 716.1,514.1 716.8,514.0 717.5,514.5 718.2,513.7 718.9,513.8 719.6,514.4 720.3,514.3 721.0,513.9 721.7,513.5 722.4,513.3 723.1,513.5 723.8,513.6 724.5,513.6 725.2,513.4 725.9,513.7 726.6,513.9 727.3,513.4 728.0,514.0 728.7,514.2 729.4,513.6 730.1,513.6 730.8,513.4 731.5,514.0 732.2,514.5 732.9,514.3 733.6,514.6 734.3,514.8 735.0,514.2 735.7,514.2 736.4,514.8 737.1,515.6 737.8,515.6 738.5,515.3" fill="none" stroke="#2272b6" stroke-width="1.25" stroke-linejoin="round" />
</g>
<rect x="574.0" y="446.0" width="164.5" height="87.0" fill="none" stroke="#a0a0a0" stroke-width="1.3"/>
<line x1="572.0" y1="446.0" x2="574.0" y2="446.0" stroke="#858585" stroke-width="1"/>
<text x="570.9" y="448.9" font-size="8.0" text-anchor="end" font-weight="normal" fill="#111" >42</text>
<line x1="572.0" y1="457.6" x2="574.0" y2="457.6" stroke="#858585" stroke-width="1"/>
<text x="570.9" y="460.5" font-size="8.0" text-anchor="end" font-weight="normal" fill="#111" >39</text>
<line x1="572.0" y1="469.2" x2="574.0" y2="469.2" stroke="#858585" stroke-width="1"/>
<text x="570.9" y="472.1" font-size="8.0" text-anchor="end" font-weight="normal" fill="#111" >36</text>
<line x1="572.0" y1="480.8" x2="574.0" y2="480.8" stroke="#858585" stroke-width="1"/>
<text x="570.9" y="483.7" font-size="8.0" text-anchor="end" font-weight="normal" fill="#111" >33</text>
<line x1="572.0" y1="492.4" x2="574.0" y2="492.4" stroke="#858585" stroke-width="1"/>
<text x="570.9" y="495.2" font-size="8.0" text-anchor="end" font-weight="normal" fill="#111" >30</text>
<line x1="572.0" y1="504.0" x2="574.0" y2="504.0" stroke="#858585" stroke-width="1"/>
<text x="570.9" y="506.9" font-size="8.0" text-anchor="end" font-weight="normal" fill="#111" >27</text>
<line x1="572.0" y1="515.6" x2="574.0" y2="515.6" stroke="#858585" stroke-width="1"/>
<text x="570.9" y="518.5" font-size="8.0" text-anchor="end" font-weight="normal" fill="#111" >24</text>
<line x1="572.0" y1="527.2" x2="574.0" y2="527.2" stroke="#858585" stroke-width="1"/>
<text x="570.9" y="530.1" font-size="8.0" text-anchor="end" font-weight="normal" fill="#111" >21</text>
<line x1="572.8" y1="451.8" x2="574.0" y2="451.8" stroke="#858585" stroke-width="0.8"/>
<line x1="572.8" y1="463.4" x2="574.0" y2="463.4" stroke="#858585" stroke-width="0.8"/>
<line x1="572.8" y1="475.0" x2="574.0" y2="475.0" stroke="#858585" stroke-width="0.8"/>
<line x1="572.8" y1="486.6" x2="574.0" y2="486.6" stroke="#858585" stroke-width="0.8"/>
<line x1="572.8" y1="498.2" x2="574.0" y2="498.2" stroke="#858585" stroke-width="0.8"/>
<line x1="572.8" y1="509.8" x2="574.0" y2="509.8" stroke="#858585" stroke-width="0.8"/>
<line x1="572.8" y1="521.4" x2="574.0" y2="521.4" stroke="#858585" stroke-width="0.8"/>
<line x1="576.0" y1="531.5" x2="576.0" y2="533.0" stroke="#858585" stroke-width="0.9"/>
<line x1="596.3" y1="532.0" x2="596.3" y2="533.0" stroke="#858585" stroke-width="0.8"/>
<line x1="616.6" y1="531.5" x2="616.6" y2="533.0" stroke="#858585" stroke-width="0.9"/>
<line x1="636.9" y1="532.0" x2="636.9" y2="533.0" stroke="#858585" stroke-width="0.8"/>
<line x1="657.2" y1="531.5" x2="657.2" y2="533.0" stroke="#858585" stroke-width="0.9"/>
<line x1="677.5" y1="532.0" x2="677.5" y2="533.0" stroke="#858585" stroke-width="0.8"/>
<line x1="697.8" y1="531.5" x2="697.8" y2="533.0" stroke="#858585" stroke-width="0.9"/>
<line x1="718.1" y1="532.0" x2="718.1" y2="533.0" stroke="#858585" stroke-width="0.8"/>
<line x1="738.4" y1="531.5" x2="738.4" y2="533.0" stroke="#858585" stroke-width="0.9"/>
<text x="583.0" y="543.0" font-size="8.0" text-anchor="middle" font-weight="normal" fill="#111" >12:00</text>
<text x="617.2" y="543.0" font-size="8.0" text-anchor="middle" font-weight="normal" fill="#111" >12:30</text>
<text x="657.8" y="543.0" font-size="8.0" text-anchor="middle" font-weight="normal" fill="#111" >13:00</text>
<text x="698.2" y="543.0" font-size="8.0" text-anchor="middle" font-weight="normal" fill="#111" >13:30</text>
<text x="732.3" y="543.0" font-size="8.0" text-anchor="middle" font-weight="normal" fill="#111" >14:00</text>
<text x="657.5" y="553.1" font-size="10.5" text-anchor="middle" font-weight="normal" fill="#1a1a1a" >Time (h)</text>
<text x="544.5" y="443.8" font-size="11.5" text-anchor="start" font-weight="bold" fill="#111" >l</text>
<text x="577.5" y="440.2" font-size="9.4" text-anchor="start" font-weight="normal" fill="#222" >ΔT ≈ 5.5 °C</text>
<text transform="translate(556.2,486.2) rotate(-90)" font-size="10.2" text-anchor="middle" fill="#111">Temperature (<tspan font-size="6.4" dy="-3.9">o</tspan><tspan dy="3.9">C)</tspan></text>
<line x1="638" y1="452.2" x2="656" y2="452.2" stroke="#ff7f16" stroke-width="1.4"/>
<text x="658.3" y="454.8" font-size="7.6" text-anchor="start" font-weight="normal" fill="#222" >Ambient temperature</text>
<line x1="638" y1="461.7" x2="656" y2="461.7" stroke="#1f6fb4" stroke-width="1.4"/>
<text x="658.3" y="464.3" font-size="7.6" text-anchor="start" font-weight="normal" fill="#222" >PMMA <tspan font-size="5.8" dy="1.7">HPA</tspan><tspan dy="-1.7"> temperature</tspan></text>
</svg>
</body></html>
